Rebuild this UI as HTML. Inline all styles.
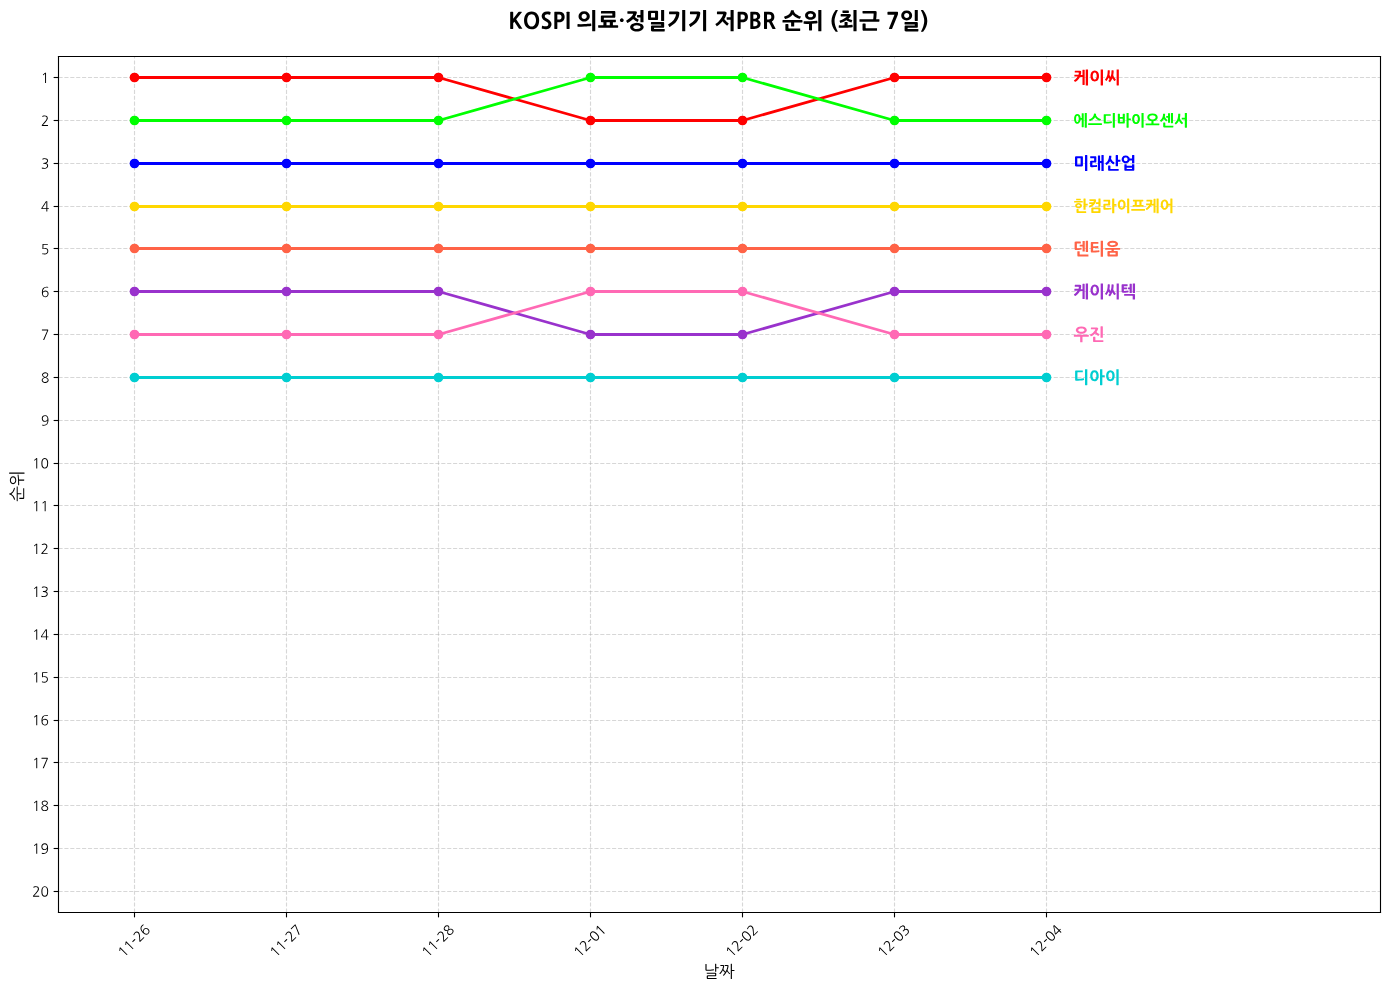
<!DOCTYPE html>
<html><head><meta charset="utf-8"><title>KOSPI chart</title>
<style>html,body{margin:0;padding:0;background:#fff;width:1389px;height:990px;overflow:hidden;font-family:"Liberation Sans",sans-serif}svg{display:block}</style>
</head><body>
<svg width="1389" height="990" viewBox="0 0 1000.08 712.8" version="1.1">
<defs>
<style type="text/css">*{stroke-linejoin: round; stroke-linecap: butt}</style>
</defs>
<g id="figure_1">
<g id="patch_1">
<path d="M 0 712.8 L 1000.08 712.8 L 1000.08 0 L 0 0 z
" style="fill: #ffffff"/>
</g>
<g id="axes_1">
<g id="patch_2">
<path d="M 41.868 656.784 L 993.6 656.784 L 993.6 40.1616 L 41.868 40.1616 z
" style="fill: #ffffff"/>
</g>
<g id="matplotlib.axis_1">
<g id="xtick_1">
<g id="line2d_1">
<path d="M 96.8400 657.0000 L 96.8400 40.6800" clip-path="url(#p527ad0eb08)" style="fill: none; stroke-dasharray: 2.96,1.28; stroke-dashoffset: 0; stroke: #b0b0b0; stroke-opacity: 0.5; stroke-width: 0.8"/>
</g>
<g id="line2d_2">
<defs>
<path id="m1504cfccaf" d="M 0 0 L 0 3.5 " style="stroke: #000000; stroke-width: 0.8"/>
</defs>
<g>
<use href="#m1504cfccaf" x="96.8400" y="657.0000" style="stroke: #000000; stroke-width: 0.8"/>
</g>
</g>
<g id="text_1">
<!-- 11-26 -->
<g style="stroke: #000000; stroke-width: 1.80" transform="translate(89.2053 689.8372) rotate(-45) scale(0.1 -0.1)">
<defs>
<path id="NanumGothic-31" d="M 2362 70 Q 2362 -19 2272 -19 L 2010 -19 Q 1920 -19 1920 70 L 1920 4230 Q 1722 4064 1549 3917 Q 1376 3770 1184 3603 Q 1114 3546 1056 3616 L 928 3770 Q 909 3802 909 3837 Q 909 3872 941 3898 L 1933 4730 Q 1958 4755 2010 4755 L 2182 4755 Q 2317 4755 2339 4732 Q 2362 4710 2362 4576 L 2362 70 z
" transform="scale(0.015625)"/>
<path id="NanumGothic-2d" d="M 1946 2701 Q 2016 2701 2025 2691 Q 2035 2682 2035 2611 L 2035 2330 Q 2035 2259 2025 2249 Q 2016 2240 1946 2240 L 448 2240 Q 378 2240 368 2249 Q 358 2259 358 2330 L 358 2611 Q 358 2682 368 2691 Q 378 2701 448 2701 L 1946 2701 z
" transform="scale(0.015625)"/>
<path id="NanumGothic-32" d="M 576 -19 Q 506 -19 470 -16 Q 435 -13 419 3 Q 403 19 400 54 Q 397 90 397 160 L 403 301 Q 403 384 454 435 L 1510 1600 Q 2688 2874 2688 3533 Q 2688 3917 2432 4173 Q 2182 4422 1811 4422 Q 1293 4422 730 4134 Q 640 4090 627 4173 L 589 4384 Q 570 4493 653 4518 Q 979 4666 1241 4736 Q 1504 4806 1779 4806 Q 2394 4806 2758 4499 Q 3168 4166 3168 3552 Q 3168 3315 3053 3033 Q 2938 2752 2733 2445 Q 2605 2266 2371 1978 Q 2138 1690 1837 1363 Q 1613 1120 1392 870 Q 1171 621 947 378 L 3187 378 Q 3277 378 3277 288 L 3277 70 Q 3277 -19 3187 -19 L 576 -19 z
" transform="scale(0.015625)"/>
<path id="NanumGothic-36" d="M 3078 1485 Q 3078 2003 2810 2304 Q 2541 2611 2042 2611 Q 1786 2611 1581 2531 Q 1376 2451 1232 2310 Q 1088 2170 1008 1971 Q 928 1773 928 1536 Q 928 1050 1197 717 Q 1491 326 1984 326 Q 2490 326 2797 666 Q 3078 986 3078 1485 z
M 3245 4294 Q 3098 4346 2909 4378 Q 2720 4410 2534 4410 Q 1664 4410 1248 3782 Q 896 3258 883 2342 Q 1024 2598 1293 2778 Q 1626 3014 2042 3014 Q 2624 3014 3021 2707 Q 3526 2317 3526 1517 Q 3526 838 3110 390 Q 2688 -64 1971 -64 Q 435 -64 435 2202 Q 435 3386 909 4051 Q 1466 4806 2586 4806 Q 2752 4806 2934 4780 Q 3117 4755 3270 4710 Q 3366 4691 3354 4595 L 3341 4358 Q 3341 4314 3309 4298 Q 3277 4282 3245 4294 z
" transform="scale(0.015625)"/>
</defs>
<use href="#NanumGothic-31"/>
<use href="#NanumGothic-31" transform="translate(60.599991 0)"/>
<use href="#NanumGothic-2d" transform="translate(121.199982 0)"/>
<use href="#NanumGothic-32" transform="translate(157.499969 0)"/>
<use href="#NanumGothic-36" transform="translate(218.09996 0)"/>
</g>
</g>
</g>
<g id="xtick_2">
<g id="line2d_3">
<path d="M 206.2800 657.0000 L 206.2800 40.6800" clip-path="url(#p527ad0eb08)" style="fill: none; stroke-dasharray: 2.96,1.28; stroke-dashoffset: 0; stroke: #b0b0b0; stroke-opacity: 0.5; stroke-width: 0.8"/>
</g>
<g id="line2d_4">
<g>
<use href="#m1504cfccaf" x="206.2800" y="657.0000" style="stroke: #000000; stroke-width: 0.8"/>
</g>
</g>
<g id="text_2">
<!-- 11-27 -->
<g style="stroke: #000000; stroke-width: 1.80" transform="translate(198.5997 689.8372) rotate(-45) scale(0.1 -0.1)">
<defs>
<path id="NanumGothic-37" d="M 1549 70 Q 1504 -19 1421 -19 L 1101 -19 Q 1062 -19 1046 6 Q 1030 32 1050 70 L 2912 4365 L 538 4365 Q 448 4365 448 4454 L 448 4666 Q 448 4755 538 4755 L 3194 4755 Q 3328 4755 3350 4732 Q 3373 4710 3373 4576 L 3373 4416 Q 3373 4365 3354 4326 L 1549 70 z
" transform="scale(0.015625)"/>
</defs>
<use href="#NanumGothic-31"/>
<use href="#NanumGothic-31" transform="translate(60.599991 0)"/>
<use href="#NanumGothic-2d" transform="translate(121.199982 0)"/>
<use href="#NanumGothic-32" transform="translate(157.499969 0)"/>
<use href="#NanumGothic-37" transform="translate(218.09996 0)"/>
</g>
</g>
</g>
<g id="xtick_3">
<g id="line2d_5">
<path d="M 315.7200 657.0000 L 315.7200 40.6800" clip-path="url(#p527ad0eb08)" style="fill: none; stroke-dasharray: 2.96,1.28; stroke-dashoffset: 0; stroke: #b0b0b0; stroke-opacity: 0.5; stroke-width: 0.8"/>
</g>
<g id="line2d_6">
<g>
<use href="#m1504cfccaf" x="315.7200" y="657.0000" style="stroke: #000000; stroke-width: 0.8"/>
</g>
</g>
<g id="text_3">
<!-- 11-28 -->
<g style="stroke: #000000; stroke-width: 1.80" transform="translate(307.9942 689.8372) rotate(-45) scale(0.1 -0.1)">
<defs>
<path id="NanumGothic-38" d="M 2944 3642 Q 2944 4006 2624 4218 Q 2342 4416 1965 4416 Q 1555 4416 1274 4211 Q 966 4006 966 3642 Q 966 3309 1286 3040 Q 1376 2957 1526 2861 Q 1677 2765 1882 2669 Q 1933 2643 1965 2646 Q 1997 2650 2061 2682 Q 2470 2906 2707 3152 Q 2944 3398 2944 3642 z
M 3104 1242 Q 3104 1594 2784 1856 Q 2682 1939 2496 2041 Q 2310 2144 2042 2266 Q 1958 2310 1856 2266 Q 1606 2170 1414 2064 Q 1222 1958 1107 1869 Q 979 1741 899 1571 Q 819 1402 819 1210 Q 819 819 1184 570 Q 1517 320 1965 320 Q 2426 320 2739 538 Q 3104 787 3104 1242 z
M 3552 1210 Q 3552 896 3421 646 Q 3290 397 3046 230 Q 2835 90 2560 13 Q 2285 -64 1965 -64 Q 1651 -64 1379 19 Q 1107 102 883 250 Q 640 422 505 668 Q 371 915 371 1210 Q 371 1709 704 2022 Q 960 2266 1491 2464 Q 518 2944 518 3693 Q 518 3962 652 4170 Q 787 4378 1030 4544 Q 1235 4672 1468 4739 Q 1702 4806 1965 4806 Q 2272 4806 2515 4739 Q 2758 4672 2957 4538 Q 3398 4230 3398 3693 Q 3398 3027 2400 2464 Q 2662 2368 2870 2253 Q 3078 2138 3206 2022 Q 3552 1715 3552 1210 z
" transform="scale(0.015625)"/>
</defs>
<use href="#NanumGothic-31"/>
<use href="#NanumGothic-31" transform="translate(60.599991 0)"/>
<use href="#NanumGothic-2d" transform="translate(121.199982 0)"/>
<use href="#NanumGothic-32" transform="translate(157.499969 0)"/>
<use href="#NanumGothic-38" transform="translate(218.09996 0)"/>
</g>
</g>
</g>
<g id="xtick_4">
<g id="line2d_7">
<path d="M 425.1600 657.0000 L 425.1600 40.6800" clip-path="url(#p527ad0eb08)" style="fill: none; stroke-dasharray: 2.96,1.28; stroke-dashoffset: 0; stroke: #b0b0b0; stroke-opacity: 0.5; stroke-width: 0.8"/>
</g>
<g id="line2d_8">
<g>
<use href="#m1504cfccaf" x="425.1600" y="657.0000" style="stroke: #000000; stroke-width: 0.8"/>
</g>
</g>
<g id="text_4">
<!-- 12-01 -->
<g style="stroke: #000000; stroke-width: 1.80" transform="translate(417.3887 689.8372) rotate(-45) scale(0.1 -0.1)">
<defs>
<path id="NanumGothic-30" d="M 3066 2374 Q 3066 4384 1965 4384 Q 864 4384 864 2374 Q 864 358 1965 358 Q 3066 358 3066 2374 z
M 3526 2374 Q 3526 -45 1965 -45 Q 390 -45 390 2374 Q 390 3379 698 4006 Q 1088 4794 1965 4794 Q 2829 4794 3226 4006 Q 3373 3693 3449 3289 Q 3526 2886 3526 2374 z
" transform="scale(0.015625)"/>
</defs>
<use href="#NanumGothic-31"/>
<use href="#NanumGothic-32" transform="translate(60.599991 0)"/>
<use href="#NanumGothic-2d" transform="translate(121.199982 0)"/>
<use href="#NanumGothic-30" transform="translate(157.499969 0)"/>
<use href="#NanumGothic-31" transform="translate(218.09996 0)"/>
</g>
</g>
</g>
<g id="xtick_5">
<g id="line2d_9">
<path d="M 534.6000 657.0000 L 534.6000 40.6800" clip-path="url(#p527ad0eb08)" style="fill: none; stroke-dasharray: 2.96,1.28; stroke-dashoffset: 0; stroke: #b0b0b0; stroke-opacity: 0.5; stroke-width: 0.8"/>
</g>
<g id="line2d_10">
<g>
<use href="#m1504cfccaf" x="534.6000" y="657.0000" style="stroke: #000000; stroke-width: 0.8"/>
</g>
</g>
<g id="text_5">
<!-- 12-02 -->
<g style="stroke: #000000; stroke-width: 1.80" transform="translate(526.7832 689.8372) rotate(-45) scale(0.1 -0.1)">
<use href="#NanumGothic-31"/>
<use href="#NanumGothic-32" transform="translate(60.599991 0)"/>
<use href="#NanumGothic-2d" transform="translate(121.199982 0)"/>
<use href="#NanumGothic-30" transform="translate(157.499969 0)"/>
<use href="#NanumGothic-32" transform="translate(218.09996 0)"/>
</g>
</g>
</g>
<g id="xtick_6">
<g id="line2d_11">
<path d="M 644.0400 657.0000 L 644.0400 40.6800" clip-path="url(#p527ad0eb08)" style="fill: none; stroke-dasharray: 2.96,1.28; stroke-dashoffset: 0; stroke: #b0b0b0; stroke-opacity: 0.5; stroke-width: 0.8"/>
</g>
<g id="line2d_12">
<g>
<use href="#m1504cfccaf" x="644.0400" y="657.0000" style="stroke: #000000; stroke-width: 0.8"/>
</g>
</g>
<g id="text_6">
<!-- 12-03 -->
<g style="stroke: #000000; stroke-width: 1.80" transform="translate(636.1777 689.8372) rotate(-45) scale(0.1 -0.1)">
<defs>
<path id="NanumGothic-33" d="M 493 90 Q 397 115 410 237 L 435 486 Q 448 563 538 525 Q 806 416 1046 371 Q 1286 326 1606 320 Q 2112 314 2458 576 Q 2861 845 2861 1363 Q 2861 2272 1498 2272 L 1165 2272 Q 1082 2272 1082 2342 L 1082 2579 Q 1082 2662 1165 2662 L 1197 2662 Q 1882 2662 2266 2810 Q 2848 3034 2848 3616 Q 2848 3802 2749 3958 Q 2650 4115 2483 4224 Q 2330 4314 2138 4365 Q 1946 4416 1734 4416 Q 1517 4416 1254 4358 Q 992 4301 749 4205 Q 666 4173 653 4256 L 627 4493 Q 608 4582 710 4621 Q 998 4717 1248 4761 Q 1498 4806 1779 4806 Q 2426 4806 2835 4531 Q 3302 4218 3302 3616 Q 3302 3187 2995 2874 Q 2739 2598 2330 2470 Q 2534 2445 2710 2361 Q 2886 2278 3014 2131 Q 3162 1971 3238 1769 Q 3315 1568 3315 1325 Q 3315 1005 3184 745 Q 3053 486 2810 301 Q 2573 128 2265 29 Q 1958 -70 1581 -64 Q 1242 -58 995 -26 Q 749 6 493 90 z
" transform="scale(0.015625)"/>
</defs>
<use href="#NanumGothic-31"/>
<use href="#NanumGothic-32" transform="translate(60.599991 0)"/>
<use href="#NanumGothic-2d" transform="translate(121.199982 0)"/>
<use href="#NanumGothic-30" transform="translate(157.499969 0)"/>
<use href="#NanumGothic-33" transform="translate(218.09996 0)"/>
</g>
</g>
</g>
<g id="xtick_7">
<g id="line2d_13">
<path d="M 753.4800 657.0000 L 753.4800 40.6800" clip-path="url(#p527ad0eb08)" style="fill: none; stroke-dasharray: 2.96,1.28; stroke-dashoffset: 0; stroke: #b0b0b0; stroke-opacity: 0.5; stroke-width: 0.8"/>
</g>
<g id="line2d_14">
<g>
<use href="#m1504cfccaf" x="753.4800" y="657.0000" style="stroke: #000000; stroke-width: 0.8"/>
</g>
</g>
<g id="text_7">
<!-- 12-04 -->
<g style="stroke: #000000; stroke-width: 1.80" transform="translate(745.5722 689.8372) rotate(-45) scale(0.1 -0.1)">
<defs>
<path id="NanumGothic-34" d="M 2509 1498 L 2509 4352 Q 2035 3635 1568 2924 Q 1101 2214 621 1498 L 2509 1498 z
M 2944 70 Q 2944 -19 2854 -19 L 2598 -19 Q 2509 -19 2509 70 L 2509 1107 L 397 1107 Q 262 1107 240 1129 Q 218 1152 218 1286 L 218 1485 Q 218 1542 224 1561 Q 230 1581 262 1632 L 2304 4678 Q 2342 4736 2358 4745 Q 2374 4755 2445 4755 L 2765 4755 Q 2899 4755 2921 4732 Q 2944 4710 2944 4576 L 2944 1498 L 3578 1498 Q 3667 1498 3667 1408 L 3667 1197 Q 3667 1107 3578 1107 L 2944 1107 L 2944 70 z
" transform="scale(0.015625)"/>
</defs>
<use href="#NanumGothic-31"/>
<use href="#NanumGothic-32" transform="translate(60.599991 0)"/>
<use href="#NanumGothic-2d" transform="translate(121.199982 0)"/>
<use href="#NanumGothic-30" transform="translate(157.499969 0)"/>
<use href="#NanumGothic-34" transform="translate(218.09996 0)"/>
</g>
</g>
</g>
<g id="text_8">
<!-- 날짜 -->
<g style="stroke: #000000; stroke-width: 1.50" transform="translate(506.454 703.743479) scale(0.12 -0.12)">
<defs>
<path id="NanumGothic-b0a0" d="M 5069 -557 Q 5069 -589 5040 -611 Q 5011 -634 4986 -634 L 1766 -634 Q 1466 -634 1373 -522 Q 1280 -410 1280 -141 L 1280 339 Q 1280 608 1392 701 Q 1504 794 1792 794 L 4352 794 Q 4442 794 4467 819 Q 4493 845 4493 941 L 4493 1306 Q 4493 1402 4470 1427 Q 4448 1453 4358 1453 L 1357 1453 Q 1325 1453 1296 1472 Q 1267 1491 1267 1523 L 1267 1754 Q 1267 1786 1296 1805 Q 1325 1824 1357 1824 L 4429 1824 Q 4582 1824 4678 1801 Q 4774 1779 4832 1728 Q 4890 1677 4912 1584 Q 4934 1491 4934 1357 L 4934 877 Q 4934 608 4822 515 Q 4710 422 4422 422 L 1856 422 Q 1766 422 1744 396 Q 1722 371 1722 275 L 1722 -115 Q 1722 -205 1747 -233 Q 1773 -262 1862 -262 L 4979 -262 Q 5011 -262 5040 -281 Q 5069 -301 5069 -333 L 5069 -557 z
M 1216 3085 Q 1216 2989 1248 2957 Q 1280 2925 1370 2918 Q 1971 2899 2633 2950 Q 3296 3002 3904 3117 Q 4006 3136 4026 3046 L 4058 2848 Q 4064 2771 3974 2746 Q 3725 2688 3382 2643 Q 3040 2598 2675 2566 Q 2310 2534 1945 2521 Q 1581 2509 1280 2522 Q 992 2534 883 2659 Q 774 2784 774 3053 L 774 5037 Q 774 5126 864 5126 L 1126 5126 Q 1216 5126 1216 5037 L 1216 3085 z
M 4928 2291 Q 4928 2202 4838 2202 L 4576 2202 Q 4486 2202 4486 2291 L 4486 5197 Q 4486 5286 4576 5286 L 4838 5286 Q 4928 5286 4928 5197 L 4928 3923 L 5811 3923 Q 5850 3923 5878 3900 Q 5907 3878 5907 3840 L 5907 3622 Q 5907 3590 5878 3564 Q 5850 3539 5811 3539 L 4928 3539 L 4928 2291 z
" transform="scale(0.015625)"/>
<path id="NanumGothic-c9dc" d="M 4083 1274 Q 4051 1229 4025 1232 Q 4000 1235 3949 1267 Q 3699 1459 3456 1766 Q 3213 2074 3034 2374 Q 2790 1888 2483 1453 Q 2176 1018 1824 659 Q 1754 589 1709 621 L 1517 787 Q 1446 845 1510 909 Q 1715 1114 1894 1338 Q 2074 1562 2240 1805 Q 2029 1990 1830 2236 Q 1632 2483 1478 2739 Q 1280 2336 1027 1974 Q 774 1613 467 1318 Q 390 1242 346 1280 L 166 1446 Q 90 1510 160 1574 Q 429 1824 659 2147 Q 890 2470 1066 2825 Q 1242 3181 1360 3545 Q 1478 3910 1523 4243 Q 1536 4333 1517 4371 Q 1498 4410 1402 4410 L 563 4410 Q 486 4410 486 4493 L 486 4698 Q 486 4774 576 4774 L 1523 4774 Q 1824 4774 1901 4656 Q 1978 4538 1946 4256 Q 1875 3718 1664 3168 Q 1728 3040 1814 2902 Q 1901 2765 2003 2627 Q 2106 2490 2221 2362 Q 2336 2234 2451 2131 Q 2739 2624 2934 3155 Q 3130 3686 3200 4243 Q 3213 4333 3193 4371 Q 3174 4410 3078 4410 L 2240 4410 Q 2163 4410 2163 4493 L 2163 4698 Q 2163 4774 2253 4774 L 3200 4774 Q 3501 4774 3577 4656 Q 3654 4538 3622 4256 Q 3578 3891 3478 3529 Q 3379 3168 3232 2803 Q 3302 2650 3411 2474 Q 3520 2298 3651 2125 Q 3782 1952 3926 1805 Q 4070 1658 4205 1568 Q 4237 1536 4237 1513 Q 4237 1491 4218 1459 L 4083 1274 z
M 4928 -525 Q 4928 -614 4838 -614 L 4576 -614 Q 4486 -614 4486 -525 L 4486 5197 Q 4486 5286 4576 5286 L 4838 5286 Q 4928 5286 4928 5197 L 4928 2867 L 5811 2867 Q 5850 2867 5878 2844 Q 5907 2822 5907 2784 L 5907 2566 Q 5914 2528 5878 2505 Q 5843 2483 5811 2483 L 4928 2483 L 4928 -525 z
" transform="scale(0.015625)"/>
</defs>
<use href="#NanumGothic-b0a0"/>
<use href="#NanumGothic-c9dc" transform="translate(93.999985 0)"/>
</g>
</g>
</g>
<g id="matplotlib.axis_2">
<g id="ytick_1">
<g id="line2d_15">
<path d="M 42.1200 55.8000 L 993.9600 55.8000" clip-path="url(#p527ad0eb08)" style="fill: none; stroke-dasharray: 2.96,1.28; stroke-dashoffset: 0; stroke: #b0b0b0; stroke-opacity: 0.5; stroke-width: 0.8"/>
</g>
<g id="line2d_16">
<defs>
<path id="m5d545ce8f8" d="M 0 0 L -3.5 0 " style="stroke: #000000; stroke-width: 0.8"/>
</defs>
<g>
<use href="#m5d545ce8f8" x="42.1200" y="55.8000" style="stroke: #000000; stroke-width: 0.8"/>
</g>
</g>
<g id="text_9">
<!-- 1 -->
<g style="stroke: #000000; stroke-width: 1.80" transform="translate(29.4566 59.7728) scale(0.1 -0.1)">
<use href="#NanumGothic-31"/>
</g>
</g>
</g>
<g id="ytick_2">
<g id="line2d_17">
<path d="M 42.1200 86.7600 L 993.9600 86.7600" clip-path="url(#p527ad0eb08)" style="fill: none; stroke-dasharray: 2.96,1.28; stroke-dashoffset: 0; stroke: #b0b0b0; stroke-opacity: 0.5; stroke-width: 0.8"/>
</g>
<g id="line2d_18">
<g>
<use href="#m5d545ce8f8" x="42.1200" y="86.7600" style="stroke: #000000; stroke-width: 0.8"/>
</g>
</g>
<g id="text_10">
<!-- 2 -->
<g style="stroke: #000000; stroke-width: 1.80" transform="translate(29.4566 90.6040) scale(0.1 -0.1)">
<use href="#NanumGothic-32"/>
</g>
</g>
</g>
<g id="ytick_3">
<g id="line2d_19">
<path d="M 42.1200 117.7200 L 993.9600 117.7200" clip-path="url(#p527ad0eb08)" style="fill: none; stroke-dasharray: 2.96,1.28; stroke-dashoffset: 0; stroke: #b0b0b0; stroke-opacity: 0.5; stroke-width: 0.8"/>
</g>
<g id="line2d_20">
<g>
<use href="#m5d545ce8f8" x="42.1200" y="117.7200" style="stroke: #000000; stroke-width: 0.8"/>
</g>
</g>
<g id="text_11">
<!-- 3 -->
<g style="stroke: #000000; stroke-width: 1.80" transform="translate(29.4566 121.4351) scale(0.1 -0.1)">
<use href="#NanumGothic-33"/>
</g>
</g>
</g>
<g id="ytick_4">
<g id="line2d_21">
<path d="M 42.1200 148.6800 L 993.9600 148.6800" clip-path="url(#p527ad0eb08)" style="fill: none; stroke-dasharray: 2.96,1.28; stroke-dashoffset: 0; stroke: #b0b0b0; stroke-opacity: 0.5; stroke-width: 0.8"/>
</g>
<g id="line2d_22">
<g>
<use href="#m5d545ce8f8" x="42.1200" y="148.6800" style="stroke: #000000; stroke-width: 0.8"/>
</g>
</g>
<g id="text_12">
<!-- 4 -->
<g style="stroke: #000000; stroke-width: 1.80" transform="translate(29.4566 152.2662) scale(0.1 -0.1)">
<use href="#NanumGothic-34"/>
</g>
</g>
</g>
<g id="ytick_5">
<g id="line2d_23">
<path d="M 42.1200 178.9200 L 993.9600 178.9200" clip-path="url(#p527ad0eb08)" style="fill: none; stroke-dasharray: 2.96,1.28; stroke-dashoffset: 0; stroke: #b0b0b0; stroke-opacity: 0.5; stroke-width: 0.8"/>
</g>
<g id="line2d_24">
<g>
<use href="#m5d545ce8f8" x="42.1200" y="178.9200" style="stroke: #000000; stroke-width: 0.8"/>
</g>
</g>
<g id="text_13">
<!-- 5 -->
<g style="stroke: #000000; stroke-width: 1.80" transform="translate(29.4566 183.0973) scale(0.1 -0.1)">
<defs>
<path id="NanumGothic-35" d="M 736 77 Q 646 109 646 192 L 646 461 Q 646 570 736 525 Q 966 416 1187 371 Q 1408 326 1670 326 Q 2234 326 2586 602 Q 2970 896 2970 1446 Q 2970 2528 1734 2528 Q 1491 2528 1296 2502 Q 1101 2477 864 2413 Q 794 2394 749 2429 Q 704 2464 704 2534 L 742 4576 Q 742 4710 764 4732 Q 787 4755 922 4755 L 3110 4755 Q 3200 4755 3200 4666 L 3200 4454 Q 3200 4365 3110 4365 L 1178 4365 Q 1171 3962 1161 3578 Q 1152 3194 1146 2790 Q 1459 2912 1907 2912 Q 2579 2912 2995 2547 Q 3411 2170 3411 1536 Q 3411 762 2931 339 Q 2470 -64 1670 -64 Q 1382 -64 1171 -32 Q 960 0 736 77 z
" transform="scale(0.015625)"/>
</defs>
<use href="#NanumGothic-35"/>
</g>
</g>
</g>
<g id="ytick_6">
<g id="line2d_25">
<path d="M 42.1200 209.8800 L 993.9600 209.8800" clip-path="url(#p527ad0eb08)" style="fill: none; stroke-dasharray: 2.96,1.28; stroke-dashoffset: 0; stroke: #b0b0b0; stroke-opacity: 0.5; stroke-width: 0.8"/>
</g>
<g id="line2d_26">
<g>
<use href="#m5d545ce8f8" x="42.1200" y="209.8800" style="stroke: #000000; stroke-width: 0.8"/>
</g>
</g>
<g id="text_14">
<!-- 6 -->
<g style="stroke: #000000; stroke-width: 1.80" transform="translate(29.4566 213.9284) scale(0.1 -0.1)">
<use href="#NanumGothic-36"/>
</g>
</g>
</g>
<g id="ytick_7">
<g id="line2d_27">
<path d="M 42.1200 240.8400 L 993.9600 240.8400" clip-path="url(#p527ad0eb08)" style="fill: none; stroke-dasharray: 2.96,1.28; stroke-dashoffset: 0; stroke: #b0b0b0; stroke-opacity: 0.5; stroke-width: 0.8"/>
</g>
<g id="line2d_28">
<g>
<use href="#m5d545ce8f8" x="42.1200" y="240.8400" style="stroke: #000000; stroke-width: 0.8"/>
</g>
</g>
<g id="text_15">
<!-- 7 -->
<g style="stroke: #000000; stroke-width: 1.80" transform="translate(29.4566 244.7596) scale(0.1 -0.1)">
<use href="#NanumGothic-37"/>
</g>
</g>
</g>
<g id="ytick_8">
<g id="line2d_29">
<path d="M 42.1200 271.8000 L 993.9600 271.8000" clip-path="url(#p527ad0eb08)" style="fill: none; stroke-dasharray: 2.96,1.28; stroke-dashoffset: 0; stroke: #b0b0b0; stroke-opacity: 0.5; stroke-width: 0.8"/>
</g>
<g id="line2d_30">
<g>
<use href="#m5d545ce8f8" x="42.1200" y="271.8000" style="stroke: #000000; stroke-width: 0.8"/>
</g>
</g>
<g id="text_16">
<!-- 8 -->
<g style="stroke: #000000; stroke-width: 1.80" transform="translate(29.4566 275.5907) scale(0.1 -0.1)">
<use href="#NanumGothic-38"/>
</g>
</g>
</g>
<g id="ytick_9">
<g id="line2d_31">
<path d="M 42.1200 302.7600 L 993.9600 302.7600" clip-path="url(#p527ad0eb08)" style="fill: none; stroke-dasharray: 2.96,1.28; stroke-dashoffset: 0; stroke: #b0b0b0; stroke-opacity: 0.5; stroke-width: 0.8"/>
</g>
<g id="line2d_32">
<g>
<use href="#m5d545ce8f8" x="42.1200" y="302.7600" style="stroke: #000000; stroke-width: 0.8"/>
</g>
</g>
<g id="text_17">
<!-- 9 -->
<g style="stroke: #000000; stroke-width: 1.80" transform="translate(29.4566 306.4218) scale(0.1 -0.1)">
<defs>
<path id="NanumGothic-39" d="M 2995 3206 Q 2995 3706 2726 4045 Q 2432 4410 1946 4410 Q 1427 4410 1133 4083 Q 845 3776 845 3264 Q 845 2720 1107 2419 L 1101 2419 Q 1376 2125 1882 2125 Q 2406 2125 2701 2419 Q 2995 2726 2995 3206 z
M 653 26 Q 557 45 570 173 L 589 397 Q 602 474 691 435 Q 851 371 1014 345 Q 1178 320 1382 320 Q 1830 320 2163 496 Q 2496 672 2707 998 Q 3027 1536 3040 2362 Q 2650 1734 1882 1734 Q 1293 1734 896 2035 Q 390 2426 390 3232 Q 390 3942 806 4365 Q 1229 4806 1958 4806 Q 3494 4806 3494 2541 Q 3494 -64 1338 -64 Q 1043 -64 653 26 z
" transform="scale(0.015625)"/>
</defs>
<use href="#NanumGothic-39"/>
</g>
</g>
</g>
<g id="ytick_10">
<g id="line2d_33">
<path d="M 42.1200 333.7200 L 993.9600 333.7200" clip-path="url(#p527ad0eb08)" style="fill: none; stroke-dasharray: 2.96,1.28; stroke-dashoffset: 0; stroke: #b0b0b0; stroke-opacity: 0.5; stroke-width: 0.8"/>
</g>
<g id="line2d_34">
<g>
<use href="#m5d545ce8f8" x="42.1200" y="333.7200" style="stroke: #000000; stroke-width: 0.8"/>
</g>
</g>
<g id="text_18">
<!-- 10 -->
<g style="stroke: #000000; stroke-width: 1.80" transform="translate(23.1092 337.2529) scale(0.1 -0.1)">
<use href="#NanumGothic-31"/>
<use href="#NanumGothic-30" transform="translate(60.599991 0)"/>
</g>
</g>
</g>
<g id="ytick_11">
<g id="line2d_35">
<path d="M 42.1200 363.9600 L 993.9600 363.9600" clip-path="url(#p527ad0eb08)" style="fill: none; stroke-dasharray: 2.96,1.28; stroke-dashoffset: 0; stroke: #b0b0b0; stroke-opacity: 0.5; stroke-width: 0.8"/>
</g>
<g id="line2d_36">
<g>
<use href="#m5d545ce8f8" x="42.1200" y="363.9600" style="stroke: #000000; stroke-width: 0.8"/>
</g>
</g>
<g id="text_19">
<!-- 11 -->
<g style="stroke: #000000; stroke-width: 1.80" transform="translate(23.1092 368.0840) scale(0.1 -0.1)">
<use href="#NanumGothic-31"/>
<use href="#NanumGothic-31" transform="translate(60.599991 0)"/>
</g>
</g>
</g>
<g id="ytick_12">
<g id="line2d_37">
<path d="M 42.1200 394.9200 L 993.9600 394.9200" clip-path="url(#p527ad0eb08)" style="fill: none; stroke-dasharray: 2.96,1.28; stroke-dashoffset: 0; stroke: #b0b0b0; stroke-opacity: 0.5; stroke-width: 0.8"/>
</g>
<g id="line2d_38">
<g>
<use href="#m5d545ce8f8" x="42.1200" y="394.9200" style="stroke: #000000; stroke-width: 0.8"/>
</g>
</g>
<g id="text_20">
<!-- 12 -->
<g style="stroke: #000000; stroke-width: 1.80" transform="translate(23.1092 398.9152) scale(0.1 -0.1)">
<use href="#NanumGothic-31"/>
<use href="#NanumGothic-32" transform="translate(60.599991 0)"/>
</g>
</g>
</g>
<g id="ytick_13">
<g id="line2d_39">
<path d="M 42.1200 425.8800 L 993.9600 425.8800" clip-path="url(#p527ad0eb08)" style="fill: none; stroke-dasharray: 2.96,1.28; stroke-dashoffset: 0; stroke: #b0b0b0; stroke-opacity: 0.5; stroke-width: 0.8"/>
</g>
<g id="line2d_40">
<g>
<use href="#m5d545ce8f8" x="42.1200" y="425.8800" style="stroke: #000000; stroke-width: 0.8"/>
</g>
</g>
<g id="text_21">
<!-- 13 -->
<g style="stroke: #000000; stroke-width: 1.80" transform="translate(23.1092 429.7463) scale(0.1 -0.1)">
<use href="#NanumGothic-31"/>
<use href="#NanumGothic-33" transform="translate(60.599991 0)"/>
</g>
</g>
</g>
<g id="ytick_14">
<g id="line2d_41">
<path d="M 42.1200 456.8400 L 993.9600 456.8400" clip-path="url(#p527ad0eb08)" style="fill: none; stroke-dasharray: 2.96,1.28; stroke-dashoffset: 0; stroke: #b0b0b0; stroke-opacity: 0.5; stroke-width: 0.8"/>
</g>
<g id="line2d_42">
<g>
<use href="#m5d545ce8f8" x="42.1200" y="456.8400" style="stroke: #000000; stroke-width: 0.8"/>
</g>
</g>
<g id="text_22">
<!-- 14 -->
<g style="stroke: #000000; stroke-width: 1.80" transform="translate(23.1092 460.5774) scale(0.1 -0.1)">
<use href="#NanumGothic-31"/>
<use href="#NanumGothic-34" transform="translate(60.599991 0)"/>
</g>
</g>
</g>
<g id="ytick_15">
<g id="line2d_43">
<path d="M 42.1200 487.8000 L 993.9600 487.8000" clip-path="url(#p527ad0eb08)" style="fill: none; stroke-dasharray: 2.96,1.28; stroke-dashoffset: 0; stroke: #b0b0b0; stroke-opacity: 0.5; stroke-width: 0.8"/>
</g>
<g id="line2d_44">
<g>
<use href="#m5d545ce8f8" x="42.1200" y="487.8000" style="stroke: #000000; stroke-width: 0.8"/>
</g>
</g>
<g id="text_23">
<!-- 15 -->
<g style="stroke: #000000; stroke-width: 1.80" transform="translate(23.1092 491.4085) scale(0.1 -0.1)">
<use href="#NanumGothic-31"/>
<use href="#NanumGothic-35" transform="translate(60.599991 0)"/>
</g>
</g>
</g>
<g id="ytick_16">
<g id="line2d_45">
<path d="M 42.1200 518.7600 L 993.9600 518.7600" clip-path="url(#p527ad0eb08)" style="fill: none; stroke-dasharray: 2.96,1.28; stroke-dashoffset: 0; stroke: #b0b0b0; stroke-opacity: 0.5; stroke-width: 0.8"/>
</g>
<g id="line2d_46">
<g>
<use href="#m5d545ce8f8" x="42.1200" y="518.7600" style="stroke: #000000; stroke-width: 0.8"/>
</g>
</g>
<g id="text_24">
<!-- 16 -->
<g style="stroke: #000000; stroke-width: 1.80" transform="translate(23.1092 522.2396) scale(0.1 -0.1)">
<use href="#NanumGothic-31"/>
<use href="#NanumGothic-36" transform="translate(60.599991 0)"/>
</g>
</g>
</g>
<g id="ytick_17">
<g id="line2d_47">
<path d="M 42.1200 549.0000 L 993.9600 549.0000" clip-path="url(#p527ad0eb08)" style="fill: none; stroke-dasharray: 2.96,1.28; stroke-dashoffset: 0; stroke: #b0b0b0; stroke-opacity: 0.5; stroke-width: 0.8"/>
</g>
<g id="line2d_48">
<g>
<use href="#m5d545ce8f8" x="42.1200" y="549.0000" style="stroke: #000000; stroke-width: 0.8"/>
</g>
</g>
<g id="text_25">
<!-- 17 -->
<g style="stroke: #000000; stroke-width: 1.80" transform="translate(23.1092 553.0708) scale(0.1 -0.1)">
<use href="#NanumGothic-31"/>
<use href="#NanumGothic-37" transform="translate(60.599991 0)"/>
</g>
</g>
</g>
<g id="ytick_18">
<g id="line2d_49">
<path d="M 42.1200 579.9600 L 993.9600 579.9600" clip-path="url(#p527ad0eb08)" style="fill: none; stroke-dasharray: 2.96,1.28; stroke-dashoffset: 0; stroke: #b0b0b0; stroke-opacity: 0.5; stroke-width: 0.8"/>
</g>
<g id="line2d_50">
<g>
<use href="#m5d545ce8f8" x="42.1200" y="579.9600" style="stroke: #000000; stroke-width: 0.8"/>
</g>
</g>
<g id="text_26">
<!-- 18 -->
<g style="stroke: #000000; stroke-width: 1.80" transform="translate(23.1092 583.9019) scale(0.1 -0.1)">
<use href="#NanumGothic-31"/>
<use href="#NanumGothic-38" transform="translate(60.599991 0)"/>
</g>
</g>
</g>
<g id="ytick_19">
<g id="line2d_51">
<path d="M 42.1200 610.9200 L 993.9600 610.9200" clip-path="url(#p527ad0eb08)" style="fill: none; stroke-dasharray: 2.96,1.28; stroke-dashoffset: 0; stroke: #b0b0b0; stroke-opacity: 0.5; stroke-width: 0.8"/>
</g>
<g id="line2d_52">
<g>
<use href="#m5d545ce8f8" x="42.1200" y="610.9200" style="stroke: #000000; stroke-width: 0.8"/>
</g>
</g>
<g id="text_27">
<!-- 19 -->
<g style="stroke: #000000; stroke-width: 1.80" transform="translate(23.1092 614.7330) scale(0.1 -0.1)">
<use href="#NanumGothic-31"/>
<use href="#NanumGothic-39" transform="translate(60.599991 0)"/>
</g>
</g>
</g>
<g id="ytick_20">
<g id="line2d_53">
<path d="M 42.1200 641.8800 L 993.9600 641.8800" clip-path="url(#p527ad0eb08)" style="fill: none; stroke-dasharray: 2.96,1.28; stroke-dashoffset: 0; stroke: #b0b0b0; stroke-opacity: 0.5; stroke-width: 0.8"/>
</g>
<g id="line2d_54">
<g>
<use href="#m5d545ce8f8" x="42.1200" y="641.8800" style="stroke: #000000; stroke-width: 0.8"/>
</g>
</g>
<g id="text_28">
<!-- 20 -->
<g style="stroke: #000000; stroke-width: 1.80" transform="translate(23.1092 645.5641) scale(0.1 -0.1)">
<use href="#NanumGothic-32"/>
<use href="#NanumGothic-30" transform="translate(60.599991 0)"/>
</g>
</g>
</g>
<g id="text_29">
<!-- 순위 -->
<g style="stroke: #000000; stroke-width: 1.50" transform="translate(16.4929 361.1928) rotate(-90) scale(0.12 -0.12)">
<defs>
<path id="NanumGothic-c21c" d="M 2912 595 Q 2880 595 2854 624 Q 2829 653 2829 691 L 2829 1997 L 288 1997 Q 250 1997 221 2022 Q 192 2048 192 2080 L 192 2298 Q 192 2336 221 2358 Q 250 2381 288 2381 L 5728 2381 Q 5760 2381 5792 2358 Q 5824 2336 5824 2298 L 5824 2080 Q 5824 2048 5792 2022 Q 5760 1997 5728 1997 L 3270 1997 L 3270 691 Q 3270 653 3248 624 Q 3226 595 3187 595 L 2912 595 z
M 3232 5088 Q 3219 5037 3209 4982 Q 3200 4928 3187 4877 Q 3219 4781 3264 4710 Q 3379 4506 3577 4307 Q 3776 4109 4035 3939 Q 4294 3770 4604 3638 Q 4915 3507 5254 3430 Q 5293 3418 5299 3386 Q 5306 3354 5293 3322 L 5184 3104 Q 5171 3072 5148 3056 Q 5126 3040 5062 3053 Q 4723 3136 4409 3277 Q 4096 3418 3827 3597 Q 3558 3776 3337 3987 Q 3117 4198 2976 4422 Q 2694 3962 2166 3584 Q 1638 3206 934 3002 Q 832 2976 806 3034 L 710 3264 Q 698 3296 707 3334 Q 717 3373 762 3386 Q 1190 3501 1548 3689 Q 1907 3878 2172 4112 Q 2438 4346 2598 4608 Q 2758 4870 2790 5133 Q 2803 5222 2874 5210 L 3162 5178 Q 3238 5165 3232 5088 z
M 5133 -422 Q 5133 -461 5101 -480 Q 5069 -499 5037 -499 L 1510 -499 Q 1210 -499 1117 -374 Q 1024 -250 1024 13 L 1024 1286 Q 1024 1376 1114 1376 L 1376 1376 Q 1466 1376 1466 1286 L 1466 19 Q 1466 -70 1494 -92 Q 1523 -115 1613 -115 L 5037 -115 Q 5069 -115 5101 -137 Q 5133 -160 5133 -192 L 5133 -422 z
" transform="scale(0.015625)"/>
<path id="NanumGothic-c704" d="M 3750 3776 Q 3750 3526 3635 3305 Q 3520 3085 3315 2918 Q 3110 2752 2828 2653 Q 2547 2554 2214 2554 Q 1888 2554 1613 2650 Q 1338 2746 1136 2915 Q 934 3085 819 3305 Q 704 3526 704 3776 Q 704 4051 819 4278 Q 934 4506 1136 4669 Q 1338 4832 1613 4918 Q 1888 5005 2214 5005 Q 2522 5005 2800 4915 Q 3078 4826 3289 4666 Q 3501 4506 3625 4278 Q 3750 4051 3750 3776 z
M 3302 3782 Q 3302 3981 3216 4134 Q 3130 4288 2979 4393 Q 2829 4499 2630 4553 Q 2432 4608 2214 4608 Q 1984 4608 1792 4550 Q 1600 4493 1456 4387 Q 1312 4282 1232 4128 Q 1152 3974 1152 3782 Q 1152 3597 1229 3443 Q 1306 3290 1446 3178 Q 1587 3066 1782 3005 Q 1978 2944 2214 2944 Q 2432 2944 2630 3008 Q 2829 3072 2979 3184 Q 3130 3296 3216 3449 Q 3302 3603 3302 3782 z
M 5152 -525 Q 5152 -614 5062 -614 L 4800 -614 Q 4710 -614 4710 -525 L 4710 5197 Q 4710 5286 4800 5286 L 5062 5286 Q 5152 5286 5152 5197 L 5152 -525 z
M 4237 2054 Q 4269 2061 4297 2045 Q 4326 2029 4333 2003 L 4365 1786 Q 4371 1696 4288 1690 Q 3872 1626 3411 1578 Q 2950 1530 2490 1498 L 2490 -410 Q 2490 -448 2467 -477 Q 2445 -506 2406 -506 L 2131 -506 Q 2099 -506 2073 -477 Q 2048 -448 2048 -410 L 2048 1478 Q 1843 1466 1606 1459 Q 1370 1453 1142 1446 Q 915 1440 710 1437 Q 506 1434 371 1440 Q 333 1440 304 1465 Q 275 1491 275 1523 L 275 1741 Q 275 1779 304 1801 Q 333 1824 371 1824 Q 557 1824 816 1827 Q 1075 1830 1347 1836 Q 1619 1843 1872 1852 Q 2125 1862 2298 1869 Q 2483 1875 2729 1894 Q 2976 1914 3241 1939 Q 3507 1965 3766 1993 Q 4026 2022 4237 2054 z
" transform="scale(0.015625)"/>
</defs>
<use href="#NanumGothic-c21c"/>
<use href="#NanumGothic-c704" transform="translate(93.999985 0)"/>
</g>
</g>
</g>
<g id="line2d_55">
<path d="M 96.8400 55.8000 L 206.2800 55.8000 L 315.7200 55.8000 L 425.1600 86.7600 L 534.6000 86.7600 L 644.0400 55.8000 L 753.4800 55.8000" clip-path="url(#p527ad0eb08)" style="fill: none; stroke: #ff0000; stroke-width: 2; stroke-linecap: square"/>
<defs>
<path id="m084c841ee3" d="M 0 3 C 0.795609 3 1.55874 2.683901 2.12132 2.12132 C 2.683901 1.55874 3 0.795609 3 0 C 3 -0.795609 2.683901 -1.55874 2.12132 -2.12132 C 1.55874 -2.683901 0.795609 -3 0 -3 C -0.795609 -3 -1.55874 -2.683901 -2.12132 -2.12132 C -2.683901 -1.55874 -3 -0.795609 -3 0 C -3 0.795609 -2.683901 1.55874 -2.12132 2.12132 C -1.55874 2.683901 -0.795609 3 0 3 z
" style="stroke: #ff0000"/>
</defs>
<g clip-path="url(#p527ad0eb08)">
<use href="#m084c841ee3" x="96.8400" y="55.8000" style="fill: #ff0000; stroke: #ff0000"/>
<use href="#m084c841ee3" x="206.2800" y="55.8000" style="fill: #ff0000; stroke: #ff0000"/>
<use href="#m084c841ee3" x="315.7200" y="55.8000" style="fill: #ff0000; stroke: #ff0000"/>
<use href="#m084c841ee3" x="425.1600" y="86.7600" style="fill: #ff0000; stroke: #ff0000"/>
<use href="#m084c841ee3" x="534.6000" y="86.7600" style="fill: #ff0000; stroke: #ff0000"/>
<use href="#m084c841ee3" x="644.0400" y="55.8000" style="fill: #ff0000; stroke: #ff0000"/>
<use href="#m084c841ee3" x="753.4800" y="55.8000" style="fill: #ff0000; stroke: #ff0000"/>
</g>
</g>
<g id="line2d_56">
<path d="M 96.8400 86.7600 L 206.2800 86.7600 L 315.7200 86.7600 L 425.1600 55.8000 L 534.6000 55.8000 L 644.0400 86.7600 L 753.4800 86.7600" clip-path="url(#p527ad0eb08)" style="fill: none; stroke: #00ff00; stroke-width: 2; stroke-linecap: square"/>
<defs>
<path id="maa00d0a9f4" d="M 0 3 C 0.795609 3 1.55874 2.683901 2.12132 2.12132 C 2.683901 1.55874 3 0.795609 3 0 C 3 -0.795609 2.683901 -1.55874 2.12132 -2.12132 C 1.55874 -2.683901 0.795609 -3 0 -3 C -0.795609 -3 -1.55874 -2.683901 -2.12132 -2.12132 C -2.683901 -1.55874 -3 -0.795609 -3 0 C -3 0.795609 -2.683901 1.55874 -2.12132 2.12132 C -1.55874 2.683901 -0.795609 3 0 3 z
" style="stroke: #00ff00"/>
</defs>
<g clip-path="url(#p527ad0eb08)">
<use href="#maa00d0a9f4" x="96.8400" y="86.7600" style="fill: #00ff00; stroke: #00ff00"/>
<use href="#maa00d0a9f4" x="206.2800" y="86.7600" style="fill: #00ff00; stroke: #00ff00"/>
<use href="#maa00d0a9f4" x="315.7200" y="86.7600" style="fill: #00ff00; stroke: #00ff00"/>
<use href="#maa00d0a9f4" x="425.1600" y="55.8000" style="fill: #00ff00; stroke: #00ff00"/>
<use href="#maa00d0a9f4" x="534.6000" y="55.8000" style="fill: #00ff00; stroke: #00ff00"/>
<use href="#maa00d0a9f4" x="644.0400" y="86.7600" style="fill: #00ff00; stroke: #00ff00"/>
<use href="#maa00d0a9f4" x="753.4800" y="86.7600" style="fill: #00ff00; stroke: #00ff00"/>
</g>
</g>
<g id="line2d_57">
<path d="M 96.8400 117.7200 L 206.2800 117.7200 L 315.7200 117.7200 L 425.1600 117.7200 L 534.6000 117.7200 L 644.0400 117.7200 L 753.4800 117.7200" clip-path="url(#p527ad0eb08)" style="fill: none; stroke: #0000ff; stroke-width: 2; stroke-linecap: square"/>
<defs>
<path id="m07ba7ed919" d="M 0 3 C 0.795609 3 1.55874 2.683901 2.12132 2.12132 C 2.683901 1.55874 3 0.795609 3 0 C 3 -0.795609 2.683901 -1.55874 2.12132 -2.12132 C 1.55874 -2.683901 0.795609 -3 0 -3 C -0.795609 -3 -1.55874 -2.683901 -2.12132 -2.12132 C -2.683901 -1.55874 -3 -0.795609 -3 0 C -3 0.795609 -2.683901 1.55874 -2.12132 2.12132 C -1.55874 2.683901 -0.795609 3 0 3 z
" style="stroke: #0000ff"/>
</defs>
<g clip-path="url(#p527ad0eb08)">
<use href="#m07ba7ed919" x="96.8400" y="117.7200" style="fill: #0000ff; stroke: #0000ff"/>
<use href="#m07ba7ed919" x="206.2800" y="117.7200" style="fill: #0000ff; stroke: #0000ff"/>
<use href="#m07ba7ed919" x="315.7200" y="117.7200" style="fill: #0000ff; stroke: #0000ff"/>
<use href="#m07ba7ed919" x="425.1600" y="117.7200" style="fill: #0000ff; stroke: #0000ff"/>
<use href="#m07ba7ed919" x="534.6000" y="117.7200" style="fill: #0000ff; stroke: #0000ff"/>
<use href="#m07ba7ed919" x="644.0400" y="117.7200" style="fill: #0000ff; stroke: #0000ff"/>
<use href="#m07ba7ed919" x="753.4800" y="117.7200" style="fill: #0000ff; stroke: #0000ff"/>
</g>
</g>
<g id="line2d_58">
<path d="M 96.8400 148.6800 L 206.2800 148.6800 L 315.7200 148.6800 L 425.1600 148.6800 L 534.6000 148.6800 L 644.0400 148.6800 L 753.4800 148.6800" clip-path="url(#p527ad0eb08)" style="fill: none; stroke: #ffd700; stroke-width: 2; stroke-linecap: square"/>
<defs>
<path id="m8daab9923a" d="M 0 3 C 0.795609 3 1.55874 2.683901 2.12132 2.12132 C 2.683901 1.55874 3 0.795609 3 0 C 3 -0.795609 2.683901 -1.55874 2.12132 -2.12132 C 1.55874 -2.683901 0.795609 -3 0 -3 C -0.795609 -3 -1.55874 -2.683901 -2.12132 -2.12132 C -2.683901 -1.55874 -3 -0.795609 -3 0 C -3 0.795609 -2.683901 1.55874 -2.12132 2.12132 C -1.55874 2.683901 -0.795609 3 0 3 z
" style="stroke: #ffd700"/>
</defs>
<g clip-path="url(#p527ad0eb08)">
<use href="#m8daab9923a" x="96.8400" y="148.6800" style="fill: #ffd700; stroke: #ffd700"/>
<use href="#m8daab9923a" x="206.2800" y="148.6800" style="fill: #ffd700; stroke: #ffd700"/>
<use href="#m8daab9923a" x="315.7200" y="148.6800" style="fill: #ffd700; stroke: #ffd700"/>
<use href="#m8daab9923a" x="425.1600" y="148.6800" style="fill: #ffd700; stroke: #ffd700"/>
<use href="#m8daab9923a" x="534.6000" y="148.6800" style="fill: #ffd700; stroke: #ffd700"/>
<use href="#m8daab9923a" x="644.0400" y="148.6800" style="fill: #ffd700; stroke: #ffd700"/>
<use href="#m8daab9923a" x="753.4800" y="148.6800" style="fill: #ffd700; stroke: #ffd700"/>
</g>
</g>
<g id="line2d_59">
<path d="M 96.8400 178.9200 L 206.2800 178.9200 L 315.7200 178.9200 L 425.1600 178.9200 L 534.6000 178.9200 L 644.0400 178.9200 L 753.4800 178.9200" clip-path="url(#p527ad0eb08)" style="fill: none; stroke: #ff6347; stroke-width: 2; stroke-linecap: square"/>
<defs>
<path id="m3a4583e886" d="M 0 3 C 0.795609 3 1.55874 2.683901 2.12132 2.12132 C 2.683901 1.55874 3 0.795609 3 0 C 3 -0.795609 2.683901 -1.55874 2.12132 -2.12132 C 1.55874 -2.683901 0.795609 -3 0 -3 C -0.795609 -3 -1.55874 -2.683901 -2.12132 -2.12132 C -2.683901 -1.55874 -3 -0.795609 -3 0 C -3 0.795609 -2.683901 1.55874 -2.12132 2.12132 C -1.55874 2.683901 -0.795609 3 0 3 z
" style="stroke: #ff6347"/>
</defs>
<g clip-path="url(#p527ad0eb08)">
<use href="#m3a4583e886" x="96.8400" y="178.9200" style="fill: #ff6347; stroke: #ff6347"/>
<use href="#m3a4583e886" x="206.2800" y="178.9200" style="fill: #ff6347; stroke: #ff6347"/>
<use href="#m3a4583e886" x="315.7200" y="178.9200" style="fill: #ff6347; stroke: #ff6347"/>
<use href="#m3a4583e886" x="425.1600" y="178.9200" style="fill: #ff6347; stroke: #ff6347"/>
<use href="#m3a4583e886" x="534.6000" y="178.9200" style="fill: #ff6347; stroke: #ff6347"/>
<use href="#m3a4583e886" x="644.0400" y="178.9200" style="fill: #ff6347; stroke: #ff6347"/>
<use href="#m3a4583e886" x="753.4800" y="178.9200" style="fill: #ff6347; stroke: #ff6347"/>
</g>
</g>
<g id="line2d_60">
<path d="M 96.8400 209.8800 L 206.2800 209.8800 L 315.7200 209.8800 L 425.1600 240.8400 L 534.6000 240.8400 L 644.0400 209.8800 L 753.4800 209.8800" clip-path="url(#p527ad0eb08)" style="fill: none; stroke: #9932cc; stroke-width: 2; stroke-linecap: square"/>
<defs>
<path id="ma977ada24a" d="M 0 3 C 0.795609 3 1.55874 2.683901 2.12132 2.12132 C 2.683901 1.55874 3 0.795609 3 0 C 3 -0.795609 2.683901 -1.55874 2.12132 -2.12132 C 1.55874 -2.683901 0.795609 -3 0 -3 C -0.795609 -3 -1.55874 -2.683901 -2.12132 -2.12132 C -2.683901 -1.55874 -3 -0.795609 -3 0 C -3 0.795609 -2.683901 1.55874 -2.12132 2.12132 C -1.55874 2.683901 -0.795609 3 0 3 z
" style="stroke: #9932cc"/>
</defs>
<g clip-path="url(#p527ad0eb08)">
<use href="#ma977ada24a" x="96.8400" y="209.8800" style="fill: #9932cc; stroke: #9932cc"/>
<use href="#ma977ada24a" x="206.2800" y="209.8800" style="fill: #9932cc; stroke: #9932cc"/>
<use href="#ma977ada24a" x="315.7200" y="209.8800" style="fill: #9932cc; stroke: #9932cc"/>
<use href="#ma977ada24a" x="425.1600" y="240.8400" style="fill: #9932cc; stroke: #9932cc"/>
<use href="#ma977ada24a" x="534.6000" y="240.8400" style="fill: #9932cc; stroke: #9932cc"/>
<use href="#ma977ada24a" x="644.0400" y="209.8800" style="fill: #9932cc; stroke: #9932cc"/>
<use href="#ma977ada24a" x="753.4800" y="209.8800" style="fill: #9932cc; stroke: #9932cc"/>
</g>
</g>
<g id="line2d_61">
<path d="M 96.8400 240.8400 L 206.2800 240.8400 L 315.7200 240.8400 L 425.1600 209.8800 L 534.6000 209.8800 L 644.0400 240.8400 L 753.4800 240.8400" clip-path="url(#p527ad0eb08)" style="fill: none; stroke: #ff69b4; stroke-width: 2; stroke-linecap: square"/>
<defs>
<path id="m52cf910bc9" d="M 0 3 C 0.795609 3 1.55874 2.683901 2.12132 2.12132 C 2.683901 1.55874 3 0.795609 3 0 C 3 -0.795609 2.683901 -1.55874 2.12132 -2.12132 C 1.55874 -2.683901 0.795609 -3 0 -3 C -0.795609 -3 -1.55874 -2.683901 -2.12132 -2.12132 C -2.683901 -1.55874 -3 -0.795609 -3 0 C -3 0.795609 -2.683901 1.55874 -2.12132 2.12132 C -1.55874 2.683901 -0.795609 3 0 3 z
" style="stroke: #ff69b4"/>
</defs>
<g clip-path="url(#p527ad0eb08)">
<use href="#m52cf910bc9" x="96.8400" y="240.8400" style="fill: #ff69b4; stroke: #ff69b4"/>
<use href="#m52cf910bc9" x="206.2800" y="240.8400" style="fill: #ff69b4; stroke: #ff69b4"/>
<use href="#m52cf910bc9" x="315.7200" y="240.8400" style="fill: #ff69b4; stroke: #ff69b4"/>
<use href="#m52cf910bc9" x="425.1600" y="209.8800" style="fill: #ff69b4; stroke: #ff69b4"/>
<use href="#m52cf910bc9" x="534.6000" y="209.8800" style="fill: #ff69b4; stroke: #ff69b4"/>
<use href="#m52cf910bc9" x="644.0400" y="240.8400" style="fill: #ff69b4; stroke: #ff69b4"/>
<use href="#m52cf910bc9" x="753.4800" y="240.8400" style="fill: #ff69b4; stroke: #ff69b4"/>
</g>
</g>
<g id="line2d_62">
<path d="M 96.8400 271.8000 L 206.2800 271.8000 L 315.7200 271.8000 L 425.1600 271.8000 L 534.6000 271.8000 L 644.0400 271.8000 L 753.4800 271.8000" clip-path="url(#p527ad0eb08)" style="fill: none; stroke: #00ced1; stroke-width: 2; stroke-linecap: square"/>
<defs>
<path id="mb5ca48beaf" d="M 0 3 C 0.795609 3 1.55874 2.683901 2.12132 2.12132 C 2.683901 1.55874 3 0.795609 3 0 C 3 -0.795609 2.683901 -1.55874 2.12132 -2.12132 C 1.55874 -2.683901 0.795609 -3 0 -3 C -0.795609 -3 -1.55874 -2.683901 -2.12132 -2.12132 C -2.683901 -1.55874 -3 -0.795609 -3 0 C -3 0.795609 -2.683901 1.55874 -2.12132 2.12132 C -1.55874 2.683901 -0.795609 3 0 3 z
" style="stroke: #00ced1"/>
</defs>
<g clip-path="url(#p527ad0eb08)">
<use href="#mb5ca48beaf" x="96.8400" y="271.8000" style="fill: #00ced1; stroke: #00ced1"/>
<use href="#mb5ca48beaf" x="206.2800" y="271.8000" style="fill: #00ced1; stroke: #00ced1"/>
<use href="#mb5ca48beaf" x="315.7200" y="271.8000" style="fill: #00ced1; stroke: #00ced1"/>
<use href="#mb5ca48beaf" x="425.1600" y="271.8000" style="fill: #00ced1; stroke: #00ced1"/>
<use href="#mb5ca48beaf" x="534.6000" y="271.8000" style="fill: #00ced1; stroke: #00ced1"/>
<use href="#mb5ca48beaf" x="644.0400" y="271.8000" style="fill: #00ced1; stroke: #00ced1"/>
<use href="#mb5ca48beaf" x="753.4800" y="271.8000" style="fill: #00ced1; stroke: #00ced1"/>
</g>
</g>
<g id="patch_3">
<path d="M 42.1200 657.0000 L 42.1200 40.6800" style="fill: none; stroke: #000000; stroke-width: 0.8; stroke-linejoin: miter; stroke-linecap: square"/>
</g>
<g id="patch_4">
<path d="M 993.9600 657.0000 L 993.9600 40.6800" style="fill: none; stroke: #000000; stroke-width: 0.8; stroke-linejoin: miter; stroke-linecap: square"/>
</g>
<g id="patch_5">
<path d="M 42.1200 657.0000 L 993.9600 657.0000" style="fill: none; stroke: #000000; stroke-width: 0.8; stroke-linejoin: miter; stroke-linecap: square"/>
</g>
<g id="patch_6">
<path d="M 42.1200 40.6800 L 993.9600 40.6800" style="fill: none; stroke: #000000; stroke-width: 0.8; stroke-linejoin: miter; stroke-linecap: square"/>
</g>
<g id="text_30">
<!-- 케이씨 -->
<g style="fill: #ff0000" transform="translate(772.9321 60.2208) scale(0.12 -0.12)">
<defs>
<path id="NanumGothicExtraBold-cf00" d="M 710 691 Q 634 653 595 656 Q 557 659 512 717 L 211 1120 Q 160 1190 153 1235 Q 147 1280 218 1331 Q 659 1619 998 1984 Q 1338 2349 1574 2746 Q 1286 2720 1001 2707 Q 717 2694 454 2694 Q 403 2694 368 2713 Q 333 2733 333 2816 L 333 3290 Q 333 3366 355 3388 Q 378 3411 422 3411 Q 845 3418 1200 3424 Q 1555 3430 1914 3456 Q 1965 3616 2003 3769 Q 2042 3923 2054 4070 Q 2074 4237 1926 4237 L 608 4237 Q 474 4237 474 4358 L 474 4832 Q 474 4960 608 4960 L 2451 4960 Q 2752 4960 2848 4848 Q 2944 4736 2944 4448 Q 2944 3866 2758 3290 L 3443 3290 L 3443 5222 Q 3443 5350 3571 5350 L 4160 5350 Q 4282 5350 4282 5222 L 4282 -358 Q 4282 -435 4256 -457 Q 4230 -480 4160 -480 L 3571 -480 Q 3501 -480 3472 -461 Q 3443 -442 3443 -358 L 3443 2566 L 2458 2566 Q 2170 2010 1728 1530 Q 1286 1050 710 691 z
M 5453 -698 L 4819 -698 Q 4749 -698 4723 -672 Q 4698 -646 4698 -576 L 4698 5331 Q 4698 5402 4726 5427 Q 4755 5453 4826 5453 L 5453 5453 Q 5523 5453 5548 5427 Q 5574 5402 5574 5331 L 5574 -576 Q 5574 -646 5548 -672 Q 5523 -698 5453 -698 z
" transform="scale(0.015625)"/>
<path id="NanumGothicExtraBold-c774" d="M 5178 -685 L 4538 -685 Q 4467 -685 4441 -662 Q 4416 -640 4416 -563 L 4416 5331 Q 4416 5402 4441 5427 Q 4467 5453 4538 5453 L 5178 5453 Q 5248 5453 5273 5427 Q 5299 5402 5299 5331 L 5299 -563 Q 5299 -640 5273 -662 Q 5248 -685 5178 -685 z
M 2125 819 Q 1754 819 1453 972 Q 1152 1126 941 1404 Q 730 1683 614 2067 Q 499 2451 499 2912 Q 499 3386 614 3779 Q 730 4173 941 4454 Q 1152 4736 1453 4893 Q 1754 5050 2125 5050 Q 2502 5050 2806 4896 Q 3110 4742 3321 4464 Q 3533 4186 3648 3792 Q 3763 3398 3763 2925 Q 3763 2451 3648 2064 Q 3533 1677 3321 1401 Q 3110 1126 2806 972 Q 2502 819 2125 819 z
M 2125 4275 Q 1958 4275 1820 4176 Q 1683 4077 1584 3897 Q 1485 3718 1430 3468 Q 1376 3219 1376 2925 Q 1376 2643 1430 2400 Q 1485 2157 1584 1977 Q 1683 1798 1820 1696 Q 1958 1594 2125 1594 Q 2298 1594 2435 1696 Q 2573 1798 2672 1977 Q 2771 2157 2825 2400 Q 2880 2643 2880 2925 Q 2880 3219 2825 3468 Q 2771 3718 2672 3897 Q 2573 4077 2435 4176 Q 2298 4275 2125 4275 z
" transform="scale(0.015625)"/>
<path id="NanumGothicExtraBold-c528" d="M 2061 621 Q 1984 531 1939 537 Q 1894 544 1830 595 L 1440 909 Q 1370 966 1373 1001 Q 1376 1037 1440 1120 Q 1658 1402 1843 1747 Q 1734 1862 1628 2006 Q 1523 2150 1434 2304 Q 1152 1677 698 1126 Q 634 1050 592 1053 Q 550 1056 499 1101 L 109 1414 Q 58 1459 51 1494 Q 45 1530 96 1594 Q 384 1946 576 2320 Q 768 2694 880 3107 Q 992 3520 1040 3987 Q 1088 4454 1088 5005 Q 1088 5152 1229 5152 L 1754 5139 Q 1901 5126 1901 4998 Q 1901 4102 1766 3386 Q 1843 3149 1955 2941 Q 2067 2733 2195 2560 Q 2579 3642 2579 5005 Q 2579 5075 2617 5116 Q 2656 5158 2733 5152 L 3245 5126 Q 3386 5114 3386 4992 Q 3386 4090 3232 3296 Q 3296 3014 3408 2768 Q 3520 2522 3651 2310 Q 3782 2099 3923 1929 Q 4064 1760 4179 1632 Q 4256 1549 4259 1517 Q 4262 1485 4192 1414 L 3866 1075 Q 3789 992 3731 1011 Q 3674 1030 3565 1139 Q 3386 1306 3210 1574 Q 3034 1843 2899 2099 Q 2579 1254 2061 621 z
M 5248 -685 L 4640 -685 Q 4570 -685 4544 -662 Q 4518 -640 4518 -563 L 4518 5331 Q 4518 5402 4544 5427 Q 4570 5453 4640 5453 L 5248 5453 Q 5318 5453 5344 5427 Q 5370 5402 5370 5331 L 5370 -563 Q 5370 -640 5344 -662 Q 5318 -685 5248 -685 z
" transform="scale(0.015625)"/>
</defs>
<use href="#NanumGothicExtraBold-cf00"/>
<use href="#NanumGothicExtraBold-c774" transform="translate(93.999985 0)"/>
<use href="#NanumGothicExtraBold-c528" transform="translate(187.999969 0)"/>
</g>
</g>
<g id="text_31">
<!-- 에스디바이오센서 -->
<g style="fill: #00ff00" transform="translate(772.9321 90.7189) scale(0.11 -0.11)">
<defs>
<path id="NanumGothicExtraBold-c5d0" d="M 5453 -691 L 4819 -691 Q 4749 -691 4723 -665 Q 4698 -640 4698 -570 L 4698 5331 Q 4698 5402 4726 5427 Q 4755 5453 4826 5453 L 5453 5453 Q 5523 5453 5548 5427 Q 5574 5402 5574 5331 L 5574 -570 Q 5574 -640 5548 -665 Q 5523 -691 5453 -691 z
M 4154 -480 L 3558 -480 Q 3488 -480 3462 -461 Q 3437 -442 3437 -358 L 3437 2605 L 2976 2605 Q 2931 2253 2812 1945 Q 2694 1638 2515 1414 Q 2336 1190 2102 1059 Q 1869 928 1594 928 Q 1280 928 1027 1085 Q 774 1242 598 1517 Q 422 1792 329 2169 Q 237 2547 237 2982 Q 237 3469 336 3849 Q 435 4230 617 4492 Q 800 4755 1046 4896 Q 1293 5037 1594 5037 Q 1869 5037 2109 4921 Q 2349 4806 2534 4585 Q 2720 4365 2838 4048 Q 2957 3731 2995 3328 L 3437 3328 L 3437 5222 Q 3437 5293 3462 5318 Q 3488 5344 3558 5344 L 4154 5344 Q 4275 5344 4275 5222 L 4275 -358 Q 4275 -435 4249 -457 Q 4224 -480 4154 -480 z
M 1600 4282 Q 1446 4282 1344 4160 Q 1242 4038 1181 3846 Q 1120 3654 1091 3424 Q 1062 3194 1062 2976 Q 1062 2765 1091 2534 Q 1120 2304 1184 2112 Q 1248 1920 1350 1795 Q 1453 1670 1600 1670 Q 1734 1670 1840 1782 Q 1946 1894 2022 2076 Q 2099 2259 2137 2496 Q 2176 2733 2176 2976 Q 2176 3232 2137 3465 Q 2099 3699 2025 3881 Q 1952 4064 1843 4173 Q 1734 4282 1600 4282 z
" transform="scale(0.015625)"/>
<path id="NanumGothicExtraBold-c2a4" d="M 928 2067 Q 838 2035 806 2048 Q 774 2061 736 2125 L 486 2573 Q 403 2720 518 2765 Q 986 2938 1341 3162 Q 1696 3386 1945 3667 Q 2195 3949 2339 4294 Q 2483 4640 2528 5069 Q 2541 5139 2566 5171 Q 2592 5203 2682 5197 L 3290 5158 Q 3405 5146 3427 5117 Q 3450 5088 3437 4998 Q 3424 4819 3398 4659 Q 3488 4339 3683 4064 Q 3878 3789 4147 3565 Q 4416 3341 4736 3171 Q 5056 3002 5402 2899 Q 5485 2874 5491 2835 Q 5498 2797 5459 2726 L 5229 2253 Q 5203 2214 5197 2195 Q 5184 2170 5171 2170 Q 5146 2150 5069 2170 Q 4787 2234 4496 2371 Q 4205 2509 3929 2694 Q 3654 2880 3417 3117 Q 3181 3354 3008 3622 Q 2675 3078 2131 2684 Q 1587 2291 928 2067 z
M 5747 403 L 250 403 Q 166 403 144 441 Q 122 480 122 538 L 122 998 Q 122 1069 144 1101 Q 166 1133 250 1133 L 5747 1133 Q 5882 1133 5882 998 L 5882 538 Q 5882 403 5747 403 z
" transform="scale(0.015625)"/>
<path id="NanumGothicExtraBold-b514" d="M 5178 -685 L 4538 -685 Q 4467 -685 4441 -662 Q 4416 -640 4416 -563 L 4416 5331 Q 4416 5402 4441 5427 Q 4467 5453 4538 5453 L 5178 5453 Q 5248 5453 5273 5427 Q 5299 5402 5299 5331 L 5299 -563 Q 5299 -640 5273 -662 Q 5248 -685 5178 -685 z
M 3942 1267 Q 3674 1203 3293 1155 Q 2912 1107 2509 1078 Q 2106 1050 1725 1040 Q 1344 1030 1069 1043 Q 838 1050 726 1126 Q 614 1203 614 1472 L 614 4563 Q 614 4691 633 4771 Q 653 4851 701 4896 Q 749 4941 835 4957 Q 922 4973 1056 4973 L 3424 4973 Q 3494 4973 3526 4950 Q 3558 4928 3558 4858 L 3558 4352 Q 3558 4282 3526 4262 Q 3494 4243 3424 4243 L 1594 4243 Q 1530 4243 1517 4217 Q 1504 4192 1504 4154 L 1504 1888 Q 1504 1786 1606 1786 Q 1837 1786 2121 1795 Q 2406 1805 2704 1827 Q 3002 1850 3296 1882 Q 3590 1914 3840 1958 Q 3910 1971 3936 1948 Q 3962 1926 3974 1875 L 4051 1408 Q 4064 1338 4041 1312 Q 4019 1286 3942 1267 z
" transform="scale(0.015625)"/>
<path id="NanumGothicExtraBold-bc14" d="M 5843 2419 L 5050 2419 L 5050 -563 Q 5050 -640 5027 -662 Q 5005 -685 4934 -685 L 4288 -685 Q 4218 -685 4189 -662 Q 4160 -640 4160 -563 L 4160 5331 Q 4160 5402 4189 5427 Q 4218 5453 4288 5453 L 4934 5453 Q 5005 5453 5027 5427 Q 5050 5402 5050 5331 L 5050 3149 L 5843 3149 Q 5901 3149 5936 3133 Q 5971 3117 5971 3027 L 5971 2541 Q 5971 2464 5936 2441 Q 5901 2419 5843 2419 z
M 2963 1094 L 1005 1094 Q 851 1094 752 1113 Q 653 1133 598 1181 Q 544 1229 525 1318 Q 506 1408 506 1555 L 506 4992 Q 506 5114 621 5114 L 1267 5114 Q 1395 5114 1395 4992 L 1395 3725 L 2560 3725 L 2560 4998 Q 2560 5126 2688 5126 L 3328 5126 Q 3450 5126 3450 4998 L 3450 1536 Q 3450 1286 3354 1190 Q 3258 1094 2963 1094 z
M 2560 3002 L 1395 3002 L 1395 1914 Q 1395 1818 1491 1818 L 2464 1818 Q 2560 1818 2560 1914 L 2560 3002 z
" transform="scale(0.015625)"/>
<path id="NanumGothicExtraBold-c624" d="M 5747 358 L 250 358 Q 166 358 144 396 Q 122 435 122 493 L 122 954 Q 122 1024 144 1056 Q 166 1088 250 1088 L 2554 1088 L 2554 2048 Q 2157 2099 1837 2236 Q 1517 2374 1293 2582 Q 1069 2790 944 3059 Q 819 3328 819 3642 Q 819 3994 976 4291 Q 1133 4589 1421 4803 Q 1709 5018 2112 5136 Q 2515 5254 3002 5254 Q 3494 5254 3894 5136 Q 4294 5018 4579 4803 Q 4864 4589 5021 4291 Q 5178 3994 5178 3642 Q 5178 3322 5056 3053 Q 4934 2784 4707 2579 Q 4480 2374 4160 2236 Q 3840 2099 3443 2048 L 3443 1088 L 5747 1088 Q 5882 1088 5882 954 L 5882 493 Q 5882 358 5747 358 z
M 3002 4512 Q 2701 4512 2461 4441 Q 2221 4371 2051 4252 Q 1882 4134 1789 3977 Q 1696 3821 1696 3642 Q 1696 3456 1789 3296 Q 1882 3136 2051 3017 Q 2221 2899 2461 2828 Q 2701 2758 3002 2758 Q 3296 2758 3536 2828 Q 3776 2899 3945 3017 Q 4115 3136 4204 3296 Q 4294 3456 4294 3642 Q 4294 3821 4204 3977 Q 4115 4134 3945 4252 Q 3776 4371 3536 4441 Q 3296 4512 3002 4512 z
" transform="scale(0.015625)"/>
<path id="NanumGothicExtraBold-c13c" d="M 2874 2010 Q 2822 1939 2774 1939 Q 2726 1939 2656 1990 Q 2560 2048 2441 2150 Q 2323 2253 2201 2377 Q 2080 2502 1965 2643 Q 1850 2784 1766 2931 Q 1562 2560 1286 2259 Q 1011 1958 685 1754 Q 595 1702 566 1705 Q 538 1709 493 1766 L 192 2150 Q 141 2214 115 2262 Q 90 2310 179 2381 Q 525 2630 758 2940 Q 992 3251 1136 3596 Q 1280 3942 1344 4304 Q 1408 4666 1408 5011 Q 1408 5101 1433 5126 Q 1459 5152 1549 5146 L 2144 5114 Q 2214 5107 2243 5081 Q 2272 5056 2272 4986 Q 2272 4710 2240 4448 Q 2208 4186 2150 3930 Q 2304 3482 2573 3171 Q 2842 2861 3149 2618 Q 3213 2566 3209 2528 Q 3206 2490 3168 2438 L 2874 2010 z
M 5600 -582 L 1914 -582 Q 1779 -582 1692 -560 Q 1606 -538 1558 -486 Q 1510 -435 1491 -345 Q 1472 -256 1472 -122 L 1472 1306 Q 1472 1440 1600 1440 L 2234 1440 Q 2362 1440 2362 1306 L 2362 243 Q 2362 147 2464 147 L 5600 147 Q 5651 147 5689 124 Q 5728 102 5728 32 L 5728 -467 Q 5728 -557 5689 -569 Q 5651 -582 5600 -582 z
M 2835 3430 Q 2714 3430 2714 3558 L 2714 4019 Q 2714 4109 2746 4125 Q 2778 4141 2835 4141 L 3482 4141 L 3482 5229 Q 3482 5299 3510 5324 Q 3539 5350 3610 5350 L 4211 5350 Q 4282 5350 4307 5324 Q 4333 5299 4333 5229 L 4333 1459 Q 4333 1389 4307 1366 Q 4282 1344 4211 1344 L 3610 1344 Q 3539 1344 3510 1366 Q 3482 1389 3482 1459 L 3482 3430 L 2835 3430 z
M 5453 1197 L 4819 1197 Q 4749 1197 4723 1222 Q 4698 1248 4698 1318 L 4698 5331 Q 4698 5453 4826 5453 L 5453 5453 Q 5523 5453 5548 5427 Q 5574 5402 5574 5331 L 5574 1318 Q 5574 1248 5548 1222 Q 5523 1197 5453 1197 z
" transform="scale(0.015625)"/>
<path id="NanumGothicExtraBold-c11c" d="M 5286 -685 L 4634 -685 Q 4563 -685 4537 -662 Q 4512 -640 4512 -563 L 4512 2746 L 3347 2746 Q 3290 2746 3258 2768 Q 3226 2790 3226 2861 L 3226 3354 Q 3226 3424 3258 3449 Q 3290 3475 3347 3475 L 4512 3475 L 4512 5331 Q 4512 5402 4537 5427 Q 4563 5453 4634 5453 L 5286 5453 Q 5357 5453 5379 5427 Q 5402 5402 5402 5331 L 5402 -563 Q 5402 -640 5379 -662 Q 5357 -685 5286 -685 z
M 3405 800 Q 3322 698 3174 813 Q 3053 896 2905 1049 Q 2758 1203 2604 1395 Q 2451 1587 2307 1801 Q 2163 2016 2061 2227 Q 1837 1766 1523 1363 Q 1210 960 896 704 Q 806 634 761 627 Q 717 621 653 685 L 301 1050 Q 250 1101 250 1149 Q 250 1197 333 1274 Q 698 1626 1002 2096 Q 1306 2566 1472 3072 Q 1606 3482 1670 3962 Q 1734 4442 1734 5005 Q 1734 5075 1756 5110 Q 1779 5146 1869 5146 L 2483 5126 Q 2573 5120 2592 5085 Q 2611 5050 2611 4973 Q 2611 4499 2569 4092 Q 2528 3686 2438 3302 Q 2522 3040 2672 2761 Q 2822 2483 2998 2230 Q 3174 1978 3353 1770 Q 3533 1562 3686 1434 Q 3776 1363 3773 1308 Q 3770 1254 3712 1184 L 3405 800 z
" transform="scale(0.015625)"/>
</defs>
<use href="#NanumGothicExtraBold-c5d0"/>
<use href="#NanumGothicExtraBold-c2a4" transform="translate(93.999985 0)"/>
<use href="#NanumGothicExtraBold-b514" transform="translate(187.999969 0)"/>
<use href="#NanumGothicExtraBold-bc14" transform="translate(281.999954 0)"/>
<use href="#NanumGothicExtraBold-c774" transform="translate(375.999939 0)"/>
<use href="#NanumGothicExtraBold-c624" transform="translate(469.999924 0)"/>
<use href="#NanumGothicExtraBold-c13c" transform="translate(563.999908 0)"/>
<use href="#NanumGothicExtraBold-c11c" transform="translate(657.999893 0)"/>
</g>
</g>
<g id="text_32">
<!-- 미래산업 -->
<g style="fill: #0000ff" transform="translate(772.9321 121.8830) scale(0.12 -0.12)">
<defs>
<path id="NanumGothicExtraBold-bbf8" d="M 5178 -685 L 4538 -685 Q 4467 -685 4441 -662 Q 4416 -640 4416 -563 L 4416 5331 Q 4416 5402 4441 5427 Q 4467 5453 4538 5453 L 5178 5453 Q 5248 5453 5273 5427 Q 5299 5402 5299 5331 L 5299 -563 Q 5299 -640 5273 -662 Q 5248 -685 5178 -685 z
M 3162 1107 L 1043 1107 Q 896 1107 803 1123 Q 710 1139 659 1187 Q 608 1235 589 1321 Q 570 1408 570 1555 L 570 4557 Q 570 4832 669 4909 Q 768 4986 1011 4986 L 3162 4986 Q 3296 4986 3382 4973 Q 3469 4960 3517 4915 Q 3565 4870 3584 4784 Q 3603 4698 3603 4557 L 3603 1555 Q 3603 1414 3584 1324 Q 3565 1235 3517 1187 Q 3469 1139 3382 1123 Q 3296 1107 3162 1107 z
M 2720 4134 Q 2720 4218 2704 4240 Q 2688 4262 2611 4262 L 1581 4262 Q 1498 4262 1475 4243 Q 1453 4224 1453 4134 L 1453 1958 Q 1453 1869 1475 1849 Q 1498 1830 1581 1830 L 2611 1830 Q 2688 1830 2704 1852 Q 2720 1875 2720 1958 L 2720 4134 z
" transform="scale(0.015625)"/>
<path id="NanumGothicExtraBold-b798" d="M 5459 -685 L 4813 -685 Q 4742 -685 4720 -662 Q 4698 -640 4698 -570 L 4698 2426 L 4192 2426 L 4192 -333 Q 4192 -416 4169 -432 Q 4147 -448 4077 -448 L 3475 -448 Q 3405 -448 3379 -432 Q 3354 -416 3354 -333 L 3354 5222 Q 3354 5293 3379 5315 Q 3405 5338 3475 5338 L 4077 5338 Q 4147 5338 4169 5315 Q 4192 5293 4192 5222 L 4192 3149 L 4698 3149 L 4698 5338 Q 4698 5408 4723 5430 Q 4749 5453 4819 5453 L 5459 5453 Q 5530 5453 5552 5430 Q 5574 5408 5574 5338 L 5574 -570 Q 5574 -640 5552 -662 Q 5530 -685 5459 -685 z
M 2970 992 Q 2752 934 2470 896 Q 2189 858 1897 832 Q 1606 806 1328 803 Q 1050 800 832 813 Q 550 832 451 928 Q 352 1024 352 1267 L 352 2938 Q 352 3142 441 3225 Q 531 3309 736 3309 L 1811 3309 Q 1869 3309 1885 3325 Q 1901 3341 1901 3398 L 1901 4179 Q 1901 4237 1885 4253 Q 1869 4269 1811 4269 L 518 4269 Q 390 4269 390 4390 L 390 4877 Q 390 4947 419 4972 Q 448 4998 518 4998 L 2317 4998 Q 2458 4998 2544 4976 Q 2630 4954 2675 4902 Q 2720 4851 2736 4768 Q 2752 4685 2752 4557 L 2752 3078 Q 2752 2810 2646 2717 Q 2541 2624 2310 2624 L 1286 2624 Q 1203 2624 1203 2541 L 1203 1626 Q 1203 1542 1299 1542 Q 1613 1530 1990 1558 Q 2368 1587 2867 1677 Q 2938 1690 2954 1667 Q 2970 1645 2982 1594 L 3066 1120 Q 3078 1050 3059 1030 Q 3040 1011 2970 992 z
" transform="scale(0.015625)"/>
<path id="NanumGothicExtraBold-c0b0" d="M 774 1747 Q 653 1670 611 1670 Q 570 1670 518 1741 L 205 2150 Q 134 2240 153 2281 Q 173 2323 250 2381 Q 582 2630 838 2940 Q 1094 3251 1264 3603 Q 1434 3955 1520 4332 Q 1606 4710 1606 5094 Q 1606 5203 1635 5225 Q 1664 5248 1754 5242 L 2381 5216 Q 2451 5210 2476 5187 Q 2502 5165 2502 5094 Q 2502 4826 2470 4573 Q 2438 4320 2381 4077 Q 2458 3846 2605 3625 Q 2752 3405 2928 3209 Q 3104 3014 3293 2857 Q 3482 2701 3642 2598 Q 3693 2566 3712 2540 Q 3731 2515 3731 2496 Q 3725 2483 3721 2470 Q 3718 2458 3712 2445 Q 3699 2426 3689 2410 Q 3680 2394 3667 2374 L 3411 1971 Q 3360 1901 3321 1897 Q 3283 1894 3194 1939 Q 3053 2010 2893 2128 Q 2733 2246 2576 2400 Q 2419 2554 2272 2733 Q 2125 2912 2016 3104 Q 1792 2688 1481 2345 Q 1171 2003 774 1747 z
M 5843 2899 L 5050 2899 L 5050 1267 Q 5050 1197 5027 1171 Q 5005 1146 4934 1146 L 4288 1146 Q 4218 1146 4189 1171 Q 4160 1197 4160 1267 L 4160 5331 Q 4160 5453 4288 5453 L 4934 5453 Q 5050 5453 5050 5331 L 5050 3629 L 5843 3629 Q 5894 3629 5932 3616 Q 5971 3603 5971 3520 L 5971 3014 Q 5971 2944 5936 2921 Q 5901 2899 5843 2899 z
M 5178 -582 L 1690 -582 Q 1555 -582 1468 -560 Q 1382 -538 1334 -486 Q 1286 -435 1267 -345 Q 1248 -256 1248 -122 L 1248 1306 Q 1248 1440 1376 1440 L 2003 1440 Q 2138 1440 2138 1306 L 2138 243 Q 2138 147 2234 147 L 5178 147 Q 5229 147 5270 124 Q 5312 102 5312 32 L 5312 -467 Q 5312 -557 5270 -569 Q 5229 -582 5178 -582 z
" transform="scale(0.015625)"/>
<path id="NanumGothicExtraBold-c5c5" d="M 1990 2336 Q 1638 2336 1353 2457 Q 1069 2579 864 2780 Q 659 2982 547 3248 Q 435 3514 435 3808 Q 435 4102 547 4371 Q 659 4640 864 4845 Q 1069 5050 1353 5171 Q 1638 5293 1990 5293 Q 2298 5293 2554 5203 Q 2810 5114 3008 4954 Q 3206 4794 3337 4582 Q 3469 4371 3520 4128 L 4422 4128 L 4422 5331 Q 4422 5414 4460 5433 Q 4499 5453 4557 5453 L 5190 5453 Q 5274 5453 5290 5417 Q 5306 5382 5306 5331 L 5306 2394 Q 5306 2272 5184 2272 L 4544 2272 Q 4422 2272 4422 2387 L 4422 3398 L 3501 3398 Q 3430 3174 3296 2979 Q 3162 2784 2966 2640 Q 2771 2496 2524 2416 Q 2278 2336 1990 2336 z
M 4813 -576 L 1971 -576 Q 1818 -576 1722 -557 Q 1626 -538 1571 -490 Q 1517 -442 1494 -352 Q 1472 -262 1472 -115 L 1472 1779 Q 1472 1894 1594 1894 L 2234 1894 Q 2304 1894 2333 1872 Q 2362 1850 2362 1779 L 2362 1312 L 4416 1312 L 4416 1805 Q 4416 1875 4448 1900 Q 4480 1926 4538 1926 L 5190 1926 Q 5248 1926 5277 1900 Q 5306 1875 5306 1805 L 5306 -134 Q 5306 -384 5213 -480 Q 5120 -576 4813 -576 z
M 1990 4550 Q 1830 4550 1699 4489 Q 1568 4429 1472 4326 Q 1376 4224 1325 4089 Q 1274 3955 1274 3808 Q 1274 3661 1325 3533 Q 1376 3405 1472 3302 Q 1568 3200 1699 3142 Q 1830 3085 1990 3085 Q 2157 3085 2291 3142 Q 2426 3200 2522 3302 Q 2618 3405 2669 3533 Q 2720 3661 2720 3808 Q 2720 3955 2665 4089 Q 2611 4224 2515 4326 Q 2419 4429 2284 4489 Q 2150 4550 1990 4550 z
M 4416 602 L 2362 602 L 2362 205 Q 2362 147 2426 147 L 4352 147 Q 4416 147 4416 205 L 4416 602 z
" transform="scale(0.015625)"/>
</defs>
<use href="#NanumGothicExtraBold-bbf8"/>
<use href="#NanumGothicExtraBold-b798" transform="translate(93.999985 0)"/>
<use href="#NanumGothicExtraBold-c0b0" transform="translate(187.999969 0)"/>
<use href="#NanumGothicExtraBold-c5c5" transform="translate(281.999954 0)"/>
</g>
</g>
<g id="text_33">
<!-- 한컴라이프케어 -->
<g style="fill: #ffd700" transform="translate(772.9321 152.3812) scale(0.11 -0.11)">
<defs>
<path id="NanumGothicExtraBold-d55c" d="M 5837 2605 L 5062 2605 L 5062 896 Q 5062 826 5040 800 Q 5018 774 4947 774 L 4301 774 Q 4230 774 4201 800 Q 4173 826 4173 896 L 4173 5331 Q 4173 5453 4301 5453 L 4947 5453 Q 5062 5453 5062 5331 L 5062 3334 L 5837 3334 Q 5888 3334 5926 3321 Q 5965 3309 5965 3219 L 5965 2720 Q 5965 2650 5929 2627 Q 5894 2605 5837 2605 z
M 2912 4723 L 1248 4723 Q 1197 4723 1155 4745 Q 1114 4768 1114 4858 L 1114 5267 Q 1114 5357 1155 5379 Q 1197 5402 1248 5402 L 2912 5402 Q 3053 5402 3053 5261 L 3053 4864 Q 3053 4794 3027 4758 Q 3002 4723 2912 4723 z
M 3731 3802 L 378 3802 Q 243 3802 243 3942 L 243 4339 Q 243 4474 384 4474 L 3731 4474 Q 3872 4474 3872 4339 L 3872 3936 Q 3872 3802 3731 3802 z
M 2099 1389 Q 1811 1389 1555 1472 Q 1299 1555 1107 1702 Q 915 1850 803 2054 Q 691 2259 691 2502 Q 691 2739 803 2944 Q 915 3149 1107 3296 Q 1299 3443 1558 3526 Q 1818 3610 2106 3610 Q 2394 3610 2653 3526 Q 2912 3443 3104 3296 Q 3296 3149 3408 2944 Q 3520 2739 3520 2502 Q 3520 2259 3408 2054 Q 3296 1850 3104 1702 Q 2912 1555 2653 1472 Q 2394 1389 2099 1389 z
M 5178 -602 L 1690 -602 Q 1555 -602 1468 -579 Q 1382 -557 1334 -505 Q 1286 -454 1267 -364 Q 1248 -275 1248 -141 L 1248 947 Q 1248 1075 1376 1075 L 2003 1075 Q 2138 1075 2138 947 L 2138 211 Q 2138 115 2234 115 L 5178 115 Q 5229 115 5270 92 Q 5312 70 5312 0 L 5312 -486 Q 5312 -576 5270 -589 Q 5229 -602 5178 -602 z
M 2106 2970 Q 1830 2970 1673 2829 Q 1517 2688 1517 2502 Q 1517 2310 1677 2163 Q 1837 2016 2106 2016 Q 2374 2016 2534 2163 Q 2694 2310 2694 2502 Q 2694 2688 2537 2829 Q 2381 2970 2106 2970 z
" transform="scale(0.015625)"/>
<path id="NanumGothicExtraBold-cef4" d="M 4819 -589 L 1933 -589 Q 1773 -589 1677 -569 Q 1581 -550 1526 -496 Q 1472 -442 1453 -352 Q 1434 -262 1434 -122 L 1434 1229 Q 1434 1510 1530 1606 Q 1626 1702 1894 1702 L 4787 1702 Q 4947 1702 5046 1680 Q 5146 1658 5200 1603 Q 5254 1549 5273 1456 Q 5293 1363 5293 1222 L 5293 -128 Q 5293 -269 5270 -358 Q 5248 -448 5193 -499 Q 5139 -550 5046 -569 Q 4954 -589 4819 -589 z
M 832 1747 Q 800 1734 781 1728 Q 762 1722 742 1715 Q 691 1702 675 1712 Q 659 1722 634 1773 L 410 2266 Q 378 2336 387 2365 Q 397 2394 486 2426 Q 870 2592 1187 2800 Q 1504 3008 1747 3238 Q 1472 3226 1203 3219 Q 934 3213 698 3213 Q 570 3213 570 3354 L 570 3795 Q 570 3885 595 3907 Q 621 3930 691 3930 Q 870 3930 1078 3933 Q 1286 3936 1497 3939 Q 1709 3942 1917 3948 Q 2125 3955 2310 3968 Q 2400 4141 2464 4339 Q 2490 4416 2477 4448 Q 2464 4480 2362 4480 L 768 4480 Q 685 4480 665 4518 Q 646 4557 646 4614 L 646 5075 Q 646 5146 672 5174 Q 698 5203 774 5203 L 2931 5203 Q 3226 5203 3331 5104 Q 3437 5005 3437 4762 Q 3437 4371 3261 3939 Q 3085 3507 2749 3097 Q 2413 2688 1929 2333 Q 1446 1978 832 1747 z
M 3482 3187 Q 3360 3187 3360 3315 L 3360 3789 Q 3360 3872 3395 3891 Q 3430 3910 3482 3910 L 4422 3910 L 4422 5331 Q 4422 5414 4460 5433 Q 4499 5453 4557 5453 L 5190 5453 Q 5274 5453 5290 5417 Q 5306 5382 5306 5331 L 5306 2170 Q 5306 2048 5184 2048 L 4544 2048 Q 4422 2048 4422 2163 L 4422 3187 L 3482 3187 z
M 4403 902 Q 4403 979 4326 979 L 2400 979 Q 2317 979 2317 896 L 2317 211 Q 2317 134 2400 134 L 4320 134 Q 4371 134 4387 144 Q 4403 154 4403 218 L 4403 902 z
" transform="scale(0.015625)"/>
<path id="NanumGothicExtraBold-b77c" d="M 5843 2419 L 5050 2419 L 5050 -563 Q 5050 -640 5027 -662 Q 5005 -685 4934 -685 L 4288 -685 Q 4218 -685 4189 -662 Q 4160 -640 4160 -563 L 4160 5331 Q 4160 5402 4189 5427 Q 4218 5453 4288 5453 L 4934 5453 Q 5005 5453 5027 5427 Q 5050 5402 5050 5331 L 5050 3149 L 5843 3149 Q 5901 3149 5936 3133 Q 5971 3117 5971 3027 L 5971 2541 Q 5971 2464 5936 2441 Q 5901 2419 5843 2419 z
M 3757 986 Q 3469 928 3120 883 Q 2771 838 2403 809 Q 2035 781 1664 774 Q 1293 768 960 781 Q 678 787 579 889 Q 480 992 480 1235 L 480 2938 Q 480 3142 569 3225 Q 659 3309 864 3309 L 2362 3309 Q 2419 3309 2435 3325 Q 2451 3341 2451 3398 L 2451 4179 Q 2451 4237 2435 4253 Q 2419 4269 2362 4269 L 646 4269 Q 518 4269 518 4390 L 518 4877 Q 518 4947 547 4972 Q 576 4998 646 4998 L 2899 4998 Q 3040 4998 3126 4976 Q 3213 4954 3257 4902 Q 3302 4851 3318 4768 Q 3334 4685 3334 4557 L 3334 3078 Q 3334 2810 3228 2717 Q 3123 2624 2893 2624 L 1440 2624 Q 1357 2624 1357 2541 L 1357 1587 Q 1357 1504 1453 1504 Q 2016 1491 2589 1536 Q 3162 1581 3674 1670 Q 3738 1683 3757 1660 Q 3776 1638 3789 1587 L 3859 1114 Q 3872 1043 3849 1020 Q 3827 998 3757 986 z
" transform="scale(0.015625)"/>
<path id="NanumGothicExtraBold-d504" d="M 5133 2042 L 858 2042 Q 717 2042 717 2189 L 717 2643 Q 717 2765 858 2765 L 1568 2765 L 1568 4288 L 973 4288 Q 826 4288 826 4429 L 826 4883 Q 826 4954 867 4986 Q 909 5018 973 5018 L 5024 5018 Q 5165 5018 5165 4883 L 5165 4422 Q 5165 4288 5024 4288 L 4422 4288 L 4422 2765 L 5133 2765 Q 5274 2765 5274 2643 L 5274 2182 Q 5274 2042 5133 2042 z
M 5747 403 L 250 403 Q 166 403 144 441 Q 122 480 122 538 L 122 998 Q 122 1069 144 1101 Q 166 1133 250 1133 L 5747 1133 Q 5882 1133 5882 998 L 5882 538 Q 5882 403 5747 403 z
M 2445 2765 L 3546 2765 L 3546 4288 L 2445 4288 L 2445 2765 z
" transform="scale(0.015625)"/>
<path id="NanumGothicExtraBold-c5b4" d="M 2035 762 Q 1670 762 1376 928 Q 1082 1094 874 1382 Q 666 1670 554 2064 Q 442 2458 442 2912 Q 442 3386 554 3782 Q 666 4179 874 4467 Q 1082 4755 1376 4918 Q 1670 5082 2035 5082 Q 2368 5082 2643 4950 Q 2918 4819 3120 4585 Q 3322 4352 3450 4022 Q 3578 3693 3622 3296 L 4461 3296 L 4461 5331 Q 4461 5402 4483 5427 Q 4506 5453 4576 5453 L 5222 5453 Q 5293 5453 5318 5427 Q 5344 5402 5344 5331 L 5344 -563 Q 5344 -640 5318 -662 Q 5293 -685 5222 -685 L 4576 -685 Q 4506 -685 4483 -662 Q 4461 -640 4461 -563 L 4461 2566 L 3629 2566 Q 3590 2163 3462 1833 Q 3334 1504 3129 1264 Q 2925 1024 2646 893 Q 2368 762 2035 762 z
M 2035 4320 Q 1875 4320 1744 4214 Q 1613 4109 1517 3920 Q 1421 3731 1366 3475 Q 1312 3219 1312 2912 Q 1312 2618 1366 2365 Q 1421 2112 1517 1923 Q 1613 1734 1744 1628 Q 1875 1523 2035 1523 Q 2202 1523 2339 1632 Q 2477 1741 2576 1926 Q 2675 2112 2729 2368 Q 2784 2624 2784 2912 Q 2784 3219 2729 3475 Q 2675 3731 2576 3920 Q 2477 4109 2339 4214 Q 2202 4320 2035 4320 z
" transform="scale(0.015625)"/>
</defs>
<use href="#NanumGothicExtraBold-d55c"/>
<use href="#NanumGothicExtraBold-cef4" transform="translate(93.999985 0)"/>
<use href="#NanumGothicExtraBold-b77c" transform="translate(187.999969 0)"/>
<use href="#NanumGothicExtraBold-c774" transform="translate(281.999954 0)"/>
<use href="#NanumGothicExtraBold-d504" transform="translate(375.999939 0)"/>
<use href="#NanumGothicExtraBold-cf00" transform="translate(469.999924 0)"/>
<use href="#NanumGothicExtraBold-c5b4" transform="translate(563.999908 0)"/>
</g>
</g>
<g id="text_34">
<!-- 덴티움 -->
<g style="fill: #ff6347" transform="translate(772.9321 183.5453) scale(0.12 -0.12)">
<defs>
<path id="NanumGothicExtraBold-b374" d="M 3027 2035 Q 2810 1984 2541 1949 Q 2272 1914 1987 1894 Q 1702 1875 1430 1872 Q 1158 1869 934 1882 Q 666 1894 541 2003 Q 416 2112 416 2374 L 416 4704 Q 416 4832 435 4912 Q 454 4992 502 5037 Q 550 5082 636 5098 Q 723 5114 858 5114 L 2682 5114 Q 2810 5114 2810 5005 L 2810 4499 Q 2810 4390 2682 4390 L 1382 4390 Q 1318 4390 1305 4364 Q 1293 4339 1293 4301 L 1293 2701 Q 1293 2630 1315 2611 Q 1338 2592 1414 2586 Q 1568 2573 1760 2579 Q 1952 2586 2153 2602 Q 2355 2618 2550 2646 Q 2746 2675 2912 2707 Q 2995 2720 3024 2704 Q 3053 2688 3066 2618 L 3130 2176 Q 3142 2106 3120 2077 Q 3098 2048 3027 2035 z
M 5600 -582 L 1914 -582 Q 1779 -582 1692 -560 Q 1606 -538 1558 -486 Q 1510 -435 1491 -345 Q 1472 -256 1472 -122 L 1472 1274 Q 1472 1408 1600 1408 L 2227 1408 Q 2362 1408 2362 1274 L 2362 243 Q 2362 147 2464 147 L 5600 147 Q 5651 147 5689 124 Q 5728 102 5728 32 L 5728 -467 Q 5728 -557 5689 -569 Q 5651 -582 5600 -582 z
M 2509 3194 Q 2445 3194 2409 3219 Q 2374 3245 2374 3322 L 2374 3776 Q 2374 3859 2416 3872 Q 2458 3885 2509 3885 L 3469 3885 L 3469 5229 Q 3469 5299 3497 5324 Q 3526 5350 3597 5350 L 4198 5350 Q 4269 5350 4294 5324 Q 4320 5299 4320 5229 L 4320 1446 Q 4320 1376 4294 1353 Q 4269 1331 4198 1331 L 3597 1331 Q 3526 1331 3497 1353 Q 3469 1376 3469 1446 L 3469 3194 L 2509 3194 z
M 5453 1133 L 4819 1133 Q 4749 1133 4723 1158 Q 4698 1184 4698 1254 L 4698 5331 Q 4698 5453 4826 5453 L 5453 5453 Q 5523 5453 5548 5427 Q 5574 5402 5574 5331 L 5574 1254 Q 5574 1184 5548 1158 Q 5523 1133 5453 1133 z
" transform="scale(0.015625)"/>
<path id="NanumGothicExtraBold-d2f0" d="M 3840 1126 Q 3571 1062 3209 1014 Q 2848 966 2464 937 Q 2080 909 1715 899 Q 1350 890 1075 902 Q 845 909 733 985 Q 621 1062 621 1331 L 621 4563 Q 621 4691 640 4771 Q 659 4851 707 4896 Q 755 4941 841 4957 Q 928 4973 1062 4973 L 3398 4973 Q 3469 4973 3501 4950 Q 3533 4928 3533 4858 L 3533 4352 Q 3533 4282 3501 4262 Q 3469 4243 3398 4243 L 1600 4243 Q 1536 4243 1523 4217 Q 1510 4192 1510 4154 L 1510 3366 Q 1984 3366 2480 3369 Q 2976 3373 3354 3398 Q 3411 3398 3456 3385 Q 3501 3373 3501 3309 L 3501 2835 Q 3501 2790 3494 2771 Q 3494 2739 3488 2726 Q 3475 2714 3459 2701 Q 3443 2688 3392 2688 Q 2989 2669 2480 2656 Q 1971 2643 1510 2643 L 1510 1747 Q 1510 1645 1613 1645 Q 2086 1645 2656 1686 Q 3226 1728 3738 1818 Q 3808 1830 3833 1808 Q 3859 1786 3872 1734 L 3949 1267 Q 3962 1197 3939 1171 Q 3917 1146 3840 1126 z
M 5178 -685 L 4538 -685 Q 4467 -685 4441 -662 Q 4416 -640 4416 -563 L 4416 5331 Q 4416 5402 4441 5427 Q 4467 5453 4538 5453 L 5178 5453 Q 5248 5453 5273 5427 Q 5299 5402 5299 5331 L 5299 -563 Q 5299 -640 5273 -662 Q 5248 -685 5178 -685 z
" transform="scale(0.015625)"/>
<path id="NanumGothicExtraBold-c6c0" d="M 4531 -589 L 1498 -589 Q 1338 -589 1242 -569 Q 1146 -550 1091 -496 Q 1037 -442 1017 -352 Q 998 -262 998 -122 L 998 1075 Q 998 1357 1094 1453 Q 1190 1549 1459 1549 L 2554 1549 L 2554 1978 L 250 1978 Q 173 1978 147 2006 Q 122 2035 122 2106 L 122 2566 Q 122 2637 141 2669 Q 160 2701 250 2701 L 5741 2701 Q 5875 2701 5875 2566 L 5875 2106 Q 5875 2029 5836 2003 Q 5798 1978 5741 1978 L 3443 1978 L 3443 1549 L 4499 1549 Q 4659 1549 4755 1526 Q 4851 1504 4905 1449 Q 4960 1395 4979 1302 Q 4998 1210 4998 1069 L 4998 -128 Q 4998 -269 4976 -358 Q 4954 -448 4899 -499 Q 4845 -550 4755 -569 Q 4666 -589 4531 -589 z
M 2995 3021 Q 2534 3021 2153 3107 Q 1773 3194 1497 3350 Q 1222 3507 1072 3724 Q 922 3942 922 4205 Q 922 4474 1072 4691 Q 1222 4909 1497 5065 Q 1773 5222 2153 5308 Q 2534 5395 2995 5395 Q 3456 5395 3837 5308 Q 4218 5222 4490 5065 Q 4762 4909 4909 4691 Q 5056 4474 5056 4205 Q 5056 3936 4909 3718 Q 4762 3501 4490 3347 Q 4218 3194 3837 3107 Q 3456 3021 2995 3021 z
M 2995 4698 Q 2438 4698 2137 4550 Q 1837 4403 1837 4205 Q 1837 4115 1913 4028 Q 1990 3942 2140 3872 Q 2291 3802 2505 3757 Q 2720 3712 2995 3712 Q 3539 3712 3840 3865 Q 4141 4019 4141 4205 Q 4141 4403 3840 4550 Q 3539 4698 2995 4698 z
M 4109 749 Q 4109 826 4038 826 L 1958 826 Q 1882 826 1882 742 L 1882 211 Q 1882 134 1958 134 L 4032 134 Q 4077 134 4093 144 Q 4109 154 4109 218 L 4109 749 z
" transform="scale(0.015625)"/>
</defs>
<use href="#NanumGothicExtraBold-b374"/>
<use href="#NanumGothicExtraBold-d2f0" transform="translate(93.999985 0)"/>
<use href="#NanumGothicExtraBold-c6c0" transform="translate(187.999969 0)"/>
</g>
</g>
<g id="text_35">
<!-- 케이씨텍 -->
<g style="fill: #9932cc" transform="translate(772.9321 214.3764) scale(0.12 -0.12)">
<defs>
<path id="NanumGothicExtraBold-d14d" d="M 3002 2112 Q 2778 2054 2509 2019 Q 2240 1984 1965 1961 Q 1690 1939 1424 1932 Q 1158 1926 941 1939 Q 672 1952 541 2067 Q 410 2182 410 2445 L 410 4762 Q 410 4890 429 4970 Q 448 5050 496 5094 Q 544 5139 630 5155 Q 717 5171 851 5171 L 2598 5171 Q 2726 5171 2726 5062 L 2726 4563 Q 2726 4454 2598 4454 L 1376 4454 Q 1312 4454 1299 4428 Q 1286 4403 1286 4365 L 1286 3910 Q 1421 3910 1533 3910 Q 1645 3910 1760 3913 Q 1875 3917 2009 3920 Q 2144 3923 2336 3936 Q 2387 3942 2432 3926 Q 2477 3910 2477 3846 L 2490 3398 Q 2490 3328 2467 3296 Q 2445 3264 2374 3258 Q 2163 3245 2019 3238 Q 1875 3232 1760 3225 Q 1645 3219 1536 3219 Q 1427 3219 1286 3219 L 1286 2746 Q 1286 2675 1308 2656 Q 1331 2637 1408 2630 Q 1766 2618 2150 2650 Q 2534 2682 2874 2752 Q 2957 2765 2985 2755 Q 3014 2746 3027 2675 L 3104 2253 Q 3117 2182 3094 2153 Q 3072 2125 3002 2112 z
M 5446 -672 L 4813 -672 Q 4678 -672 4678 -544 L 4678 659 Q 4678 755 4582 755 L 1510 755 Q 1459 755 1424 774 Q 1389 794 1389 864 L 1389 1363 Q 1389 1453 1424 1469 Q 1459 1485 1510 1485 L 5114 1485 Q 5254 1485 5344 1462 Q 5434 1440 5482 1382 Q 5530 1325 5549 1232 Q 5568 1139 5568 1005 L 5568 -544 Q 5568 -672 5446 -672 z
M 2925 3232 Q 2867 3232 2832 3257 Q 2797 3283 2797 3360 L 2797 3821 Q 2797 3904 2835 3917 Q 2874 3930 2925 3930 L 3482 3930 L 3482 5229 Q 3482 5299 3510 5324 Q 3539 5350 3610 5350 L 4211 5350 Q 4282 5350 4307 5324 Q 4333 5299 4333 5229 L 4333 1965 Q 4333 1888 4307 1865 Q 4282 1843 4211 1843 L 3610 1843 Q 3539 1843 3510 1865 Q 3482 1888 3482 1965 L 3482 3232 L 2925 3232 z
M 5453 1792 L 4819 1792 Q 4749 1792 4723 1821 Q 4698 1850 4698 1920 L 4698 5331 Q 4698 5402 4726 5427 Q 4755 5453 4826 5453 L 5453 5453 Q 5523 5453 5548 5427 Q 5574 5402 5574 5331 L 5574 1920 Q 5574 1850 5548 1821 Q 5523 1792 5453 1792 z
" transform="scale(0.015625)"/>
</defs>
<use href="#NanumGothicExtraBold-cf00"/>
<use href="#NanumGothicExtraBold-c774" transform="translate(93.999985 0)"/>
<use href="#NanumGothicExtraBold-c528" transform="translate(187.999969 0)"/>
<use href="#NanumGothicExtraBold-d14d" transform="translate(281.999954 0)"/>
</g>
</g>
<g id="text_36">
<!-- 우진 -->
<g style="fill: #ff69b4" transform="translate(772.9321 245.2075) scale(0.12 -0.12)">
<defs>
<path id="NanumGothicExtraBold-c6b0" d="M 3002 2611 Q 2547 2611 2163 2713 Q 1779 2816 1497 2998 Q 1216 3181 1056 3437 Q 896 3693 896 4006 Q 896 4320 1056 4579 Q 1216 4838 1497 5020 Q 1779 5203 2163 5305 Q 2547 5408 3002 5408 Q 3450 5408 3834 5305 Q 4218 5203 4499 5020 Q 4781 4838 4941 4579 Q 5101 4320 5101 4006 Q 5101 3693 4941 3437 Q 4781 3181 4502 2998 Q 4224 2816 3837 2713 Q 3450 2611 3002 2611 z
M 5747 1491 L 3443 1491 L 3443 -512 Q 3443 -640 3315 -640 L 2682 -640 Q 2554 -640 2554 -512 L 2554 1491 L 250 1491 Q 166 1491 144 1529 Q 122 1568 122 1638 L 122 2080 Q 122 2150 144 2185 Q 166 2221 250 2221 L 5747 2221 Q 5882 2221 5882 2080 L 5882 1638 Q 5882 1491 5747 1491 z
M 3002 4678 Q 2739 4678 2518 4624 Q 2298 4570 2141 4477 Q 1984 4384 1894 4259 Q 1805 4134 1805 4000 Q 1805 3872 1894 3750 Q 1984 3629 2141 3539 Q 2298 3450 2518 3395 Q 2739 3341 3002 3341 Q 3264 3341 3485 3395 Q 3706 3450 3862 3539 Q 4019 3629 4105 3750 Q 4192 3872 4192 4000 Q 4192 4134 4105 4259 Q 4019 4384 3862 4477 Q 3706 4570 3488 4624 Q 3270 4678 3002 4678 z
" transform="scale(0.015625)"/>
<path id="NanumGothicExtraBold-c9c4" d="M 800 1658 Q 691 1606 649 1622 Q 608 1638 576 1696 L 333 2144 Q 275 2253 416 2323 Q 762 2502 1066 2732 Q 1370 2963 1616 3206 Q 1862 3450 2038 3686 Q 2214 3923 2304 4115 Q 2355 4224 2348 4269 Q 2342 4314 2240 4314 L 781 4314 Q 691 4314 675 4349 Q 659 4384 659 4448 L 659 4909 Q 659 5050 787 5050 L 2944 5050 Q 3328 5050 3417 4864 Q 3507 4678 3386 4352 Q 3290 4102 3142 3840 Q 2995 3578 2803 3315 Q 3059 3046 3369 2832 Q 3680 2618 3923 2477 Q 4032 2413 3962 2317 L 3629 1850 Q 3590 1798 3555 1792 Q 3520 1786 3450 1824 Q 3347 1882 3209 1974 Q 3072 2067 2915 2185 Q 2758 2304 2601 2441 Q 2445 2579 2304 2726 Q 1984 2400 1606 2125 Q 1229 1850 800 1658 z
M 5306 -582 L 1946 -582 Q 1805 -582 1718 -560 Q 1632 -538 1581 -480 Q 1530 -422 1510 -332 Q 1491 -243 1491 -109 L 1491 1293 Q 1491 1427 1619 1427 L 2253 1427 Q 2381 1427 2381 1293 L 2381 250 Q 2381 154 2483 154 L 5306 154 Q 5357 154 5395 131 Q 5434 109 5434 38 L 5434 -467 Q 5434 -557 5395 -569 Q 5357 -582 5306 -582 z
M 5126 1069 L 4480 1069 Q 4410 1069 4384 1097 Q 4358 1126 4358 1197 L 4358 5331 Q 4358 5453 4480 5453 L 5126 5453 Q 5242 5453 5242 5331 L 5242 1190 Q 5242 1120 5219 1094 Q 5197 1069 5126 1069 z
" transform="scale(0.015625)"/>
</defs>
<use href="#NanumGothicExtraBold-c6b0"/>
<use href="#NanumGothicExtraBold-c9c4" transform="translate(93.999985 0)"/>
</g>
</g>
<g id="text_37">
<!-- 디아이 -->
<g style="fill: #00ced1" transform="translate(772.9321 276.0386) scale(0.12 -0.12)">
<defs>
<path id="NanumGothicExtraBold-c544" d="M 5843 2419 L 5050 2419 L 5050 -563 Q 5050 -640 5027 -662 Q 5005 -685 4934 -685 L 4288 -685 Q 4218 -685 4189 -662 Q 4160 -640 4160 -563 L 4160 5331 Q 4160 5402 4189 5427 Q 4218 5453 4288 5453 L 4934 5453 Q 5005 5453 5027 5427 Q 5050 5402 5050 5331 L 5050 3149 L 5843 3149 Q 5901 3149 5936 3133 Q 5971 3117 5971 3027 L 5971 2541 Q 5971 2464 5936 2441 Q 5901 2419 5843 2419 z
M 2016 806 Q 1645 806 1344 966 Q 1043 1126 832 1408 Q 621 1690 505 2074 Q 390 2458 390 2912 Q 390 3386 505 3779 Q 621 4173 832 4457 Q 1043 4742 1344 4902 Q 1645 5062 2016 5062 Q 2387 5062 2691 4905 Q 2995 4749 3209 4467 Q 3424 4186 3539 3792 Q 3654 3398 3654 2925 Q 3654 2458 3539 2067 Q 3424 1677 3209 1398 Q 2995 1120 2691 963 Q 2387 806 2016 806 z
M 2016 4314 Q 1850 4314 1712 4208 Q 1574 4102 1475 3916 Q 1376 3731 1321 3478 Q 1267 3226 1267 2925 Q 1267 2637 1321 2384 Q 1376 2131 1475 1948 Q 1574 1766 1712 1660 Q 1850 1555 2016 1555 Q 2182 1555 2323 1660 Q 2464 1766 2563 1952 Q 2662 2138 2716 2387 Q 2771 2637 2771 2925 Q 2771 3226 2716 3478 Q 2662 3731 2563 3916 Q 2464 4102 2323 4208 Q 2182 4314 2016 4314 z
" transform="scale(0.015625)"/>
</defs>
<use href="#NanumGothicExtraBold-b514"/>
<use href="#NanumGothicExtraBold-c544" transform="translate(93.999985 0)"/>
<use href="#NanumGothicExtraBold-c774" transform="translate(187.999969 0)"/>
</g>
</g>
<g id="text_38">
<!-- KOSPI 의료·정밀기기 저PBR 순위 (최근 7일) -->
<g transform="translate(366.1827 20.8096) scale(0.16 -0.16)">
<defs>
<path id="NanumGothicExtraBold-4b" d="M 3117 13 Q 3046 13 3027 25 Q 3008 38 2963 109 L 1677 2074 L 1331 1690 L 1331 134 Q 1331 58 1299 32 Q 1267 6 1203 6 L 589 6 Q 518 6 489 32 Q 461 58 461 134 L 461 4806 Q 461 4934 589 4934 L 1203 4934 Q 1331 4934 1331 4806 L 1331 2912 L 2835 4838 Q 2867 4870 2886 4889 Q 2906 4909 2963 4909 L 3680 4909 Q 3904 4909 3770 4749 L 2189 2752 L 3936 147 Q 4032 13 3853 13 L 3117 13 z
" transform="scale(0.015625)"/>
<path id="NanumGothicExtraBold-4f" d="M 4166 634 Q 3866 256 3456 77 Q 3046 -102 2528 -102 Q 1952 -102 1539 106 Q 1126 314 860 669 Q 595 1024 470 1488 Q 346 1952 346 2464 Q 346 2963 474 3427 Q 602 3891 870 4246 Q 1139 4602 1548 4813 Q 1958 5024 2528 5024 Q 3091 5024 3500 4809 Q 3910 4595 4179 4240 Q 4448 3885 4579 3424 Q 4710 2963 4704 2464 Q 4698 1901 4570 1443 Q 4442 986 4166 634 z
M 2528 4230 Q 2195 4230 1955 4080 Q 1715 3930 1558 3680 Q 1402 3430 1328 3113 Q 1254 2797 1254 2464 Q 1254 2131 1328 1814 Q 1402 1498 1558 1248 Q 1715 998 1955 844 Q 2195 691 2528 691 Q 2854 691 3094 844 Q 3334 998 3488 1248 Q 3642 1498 3715 1818 Q 3789 2138 3789 2464 Q 3789 2784 3715 3101 Q 3642 3418 3488 3667 Q 3334 3917 3097 4073 Q 2861 4230 2528 4230 z
" transform="scale(0.015625)"/>
<path id="NanumGothicExtraBold-53" d="M 2816 358 Q 2650 173 2374 54 Q 2099 -64 1811 -90 Q 1658 -109 1462 -96 Q 1267 -83 1081 -54 Q 896 -26 742 9 Q 589 45 512 77 Q 442 109 422 137 Q 403 166 416 243 L 480 864 Q 486 928 508 941 Q 531 954 608 922 Q 730 870 886 828 Q 1043 787 1206 764 Q 1370 742 1526 736 Q 1683 730 1811 762 Q 2080 826 2195 973 Q 2310 1120 2310 1395 Q 2310 1453 2284 1529 Q 2259 1606 2188 1699 Q 2118 1792 2000 1894 Q 1882 1997 1696 2112 Q 1344 2330 1097 2515 Q 851 2701 694 2883 Q 538 3066 464 3258 Q 390 3450 390 3680 Q 390 3968 508 4214 Q 627 4461 835 4643 Q 1043 4826 1324 4928 Q 1606 5030 1933 5030 Q 2259 5030 2492 4982 Q 2726 4934 2880 4864 Q 2963 4826 2972 4800 Q 2982 4774 2970 4704 L 2848 4160 Q 2835 4102 2803 4089 Q 2771 4077 2675 4109 Q 2374 4205 2121 4224 Q 1869 4243 1683 4179 Q 1498 4115 1392 3977 Q 1286 3840 1286 3629 Q 1286 3475 1424 3315 Q 1562 3155 1869 2970 Q 2259 2726 2518 2534 Q 2778 2342 2931 2160 Q 3085 1978 3149 1789 Q 3213 1600 3213 1370 Q 3213 1062 3107 812 Q 3002 563 2816 358 z
" transform="scale(0.015625)"/>
<path id="NanumGothicExtraBold-50" d="M 1414 1920 L 1414 134 Q 1414 45 1385 22 Q 1357 0 1286 0 L 672 0 Q 608 0 576 22 Q 544 45 544 134 L 544 4800 Q 544 4877 579 4902 Q 614 4928 666 4928 L 1946 4928 Q 2298 4928 2589 4838 Q 2880 4749 3085 4563 Q 3290 4378 3402 4099 Q 3514 3821 3514 3437 Q 3514 3066 3389 2784 Q 3264 2502 3049 2310 Q 2835 2118 2537 2019 Q 2240 1920 1894 1920 L 1414 1920 z
M 1414 4134 L 1414 2714 L 1837 2714 Q 2221 2714 2425 2886 Q 2630 3059 2630 3443 Q 2630 3782 2467 3958 Q 2304 4134 2035 4134 L 1414 4134 z
" transform="scale(0.015625)"/>
<path id="NanumGothicExtraBold-49" d="M 506 6 Q 435 6 406 32 Q 378 58 378 134 L 378 4806 Q 378 4934 506 4934 L 1120 4934 Q 1248 4934 1248 4806 L 1248 134 Q 1248 58 1219 32 Q 1190 6 1120 6 L 506 6 z
" transform="scale(0.015625)"/>
<path id="NanumGothicExtraBold-20" transform="scale(0.015625)"/>
<path id="NanumGothicExtraBold-c758" d="M 5178 -685 L 4538 -685 Q 4467 -685 4441 -662 Q 4416 -640 4416 -563 L 4416 5331 Q 4416 5402 4441 5427 Q 4467 5453 4538 5453 L 5178 5453 Q 5248 5453 5273 5427 Q 5299 5402 5299 5331 L 5299 -563 Q 5299 -640 5273 -662 Q 5248 -685 5178 -685 z
M 2093 2125 Q 1766 2125 1475 2230 Q 1184 2336 963 2531 Q 742 2726 614 2995 Q 486 3264 486 3597 Q 486 3923 614 4198 Q 742 4474 963 4675 Q 1184 4877 1478 4989 Q 1773 5101 2099 5101 Q 2432 5101 2726 4989 Q 3021 4877 3241 4675 Q 3462 4474 3593 4198 Q 3725 3923 3725 3597 Q 3725 3264 3593 2995 Q 3462 2726 3238 2531 Q 3014 2336 2716 2230 Q 2419 2125 2093 2125 z
M 4090 851 Q 3648 781 3171 736 Q 2694 691 2208 668 Q 1722 646 1238 640 Q 755 634 301 646 Q 224 646 198 678 Q 173 710 173 781 L 173 1242 Q 173 1376 301 1376 Q 749 1363 1225 1369 Q 1702 1376 2179 1398 Q 2656 1421 3113 1462 Q 3571 1504 3974 1562 Q 4064 1574 4089 1555 Q 4115 1536 4122 1466 L 4179 986 Q 4198 870 4090 851 z
M 2099 4352 Q 1786 4352 1578 4141 Q 1370 3930 1370 3597 Q 1370 3251 1574 3049 Q 1779 2848 2099 2848 Q 2413 2848 2627 3049 Q 2842 3251 2842 3597 Q 2842 3757 2784 3897 Q 2726 4038 2627 4140 Q 2528 4243 2390 4297 Q 2253 4352 2099 4352 z
" transform="scale(0.015625)"/>
<path id="NanumGothicExtraBold-b8cc" d="M 5747 339 L 250 339 Q 166 339 144 377 Q 122 416 122 474 L 122 922 Q 122 992 144 1024 Q 166 1056 250 1056 L 1632 1056 L 1632 1907 L 1363 1907 Q 1082 1907 989 2009 Q 896 2112 896 2355 L 896 3456 Q 896 3578 915 3658 Q 934 3738 982 3786 Q 1030 3834 1116 3856 Q 1203 3878 1344 3878 L 4122 3878 Q 4205 3878 4205 3962 L 4205 4352 Q 4205 4429 4122 4429 L 1056 4429 Q 986 4429 957 4454 Q 928 4480 928 4557 L 928 5024 Q 928 5146 1056 5146 L 4608 5146 Q 4749 5146 4841 5126 Q 4934 5107 4982 5059 Q 5030 5011 5049 4928 Q 5069 4845 5069 4717 L 5069 3622 Q 5069 3488 5049 3405 Q 5030 3322 4982 3274 Q 4934 3226 4841 3206 Q 4749 3187 4608 3187 L 1837 3187 Q 1760 3187 1760 3117 L 1760 2701 Q 1760 2624 1843 2624 L 5082 2624 Q 5152 2624 5184 2608 Q 5216 2592 5216 2502 L 5216 2035 Q 5216 1907 5088 1907 L 4365 1907 L 4365 1056 L 5747 1056 Q 5882 1056 5882 922 L 5882 474 Q 5882 339 5747 339 z
M 3475 1056 L 3475 1907 L 2522 1907 L 2522 1056 L 3475 1056 z
" transform="scale(0.015625)"/>
<path id="NanumGothicExtraBold-b7" d="M 1459 2490 Q 1459 2253 1302 2102 Q 1146 1952 909 1952 Q 672 1952 518 2102 Q 365 2253 365 2490 Q 365 2726 515 2880 Q 666 3034 902 3034 Q 1139 3034 1299 2880 Q 1459 2726 1459 2490 z
" transform="scale(0.015625)"/>
<path id="NanumGothicExtraBold-c815" d="M 3386 -736 Q 2970 -736 2618 -643 Q 2266 -550 2006 -384 Q 1747 -218 1600 12 Q 1453 243 1453 518 Q 1453 774 1600 1001 Q 1747 1229 2006 1395 Q 2266 1562 2618 1658 Q 2970 1754 3386 1754 Q 3782 1754 4137 1661 Q 4493 1568 4761 1405 Q 5030 1242 5190 1014 Q 5350 787 5350 518 Q 5350 243 5190 12 Q 5030 -218 4761 -384 Q 4493 -550 4137 -643 Q 3782 -736 3386 -736 z
M 806 1766 Q 698 1715 656 1734 Q 614 1754 582 1811 L 314 2253 Q 243 2355 397 2432 Q 710 2605 1004 2825 Q 1299 3046 1545 3280 Q 1792 3514 1974 3747 Q 2157 3981 2253 4179 Q 2304 4288 2297 4333 Q 2291 4378 2189 4378 L 781 4378 Q 691 4378 675 4413 Q 659 4448 659 4512 L 659 4979 Q 659 5114 787 5114 L 2893 5114 Q 3277 5114 3360 4928 Q 3443 4742 3334 4416 Q 3162 3923 2822 3450 Q 3072 3206 3366 3014 Q 3661 2822 3885 2694 Q 3981 2637 3923 2541 L 3629 2067 Q 3597 2016 3561 2009 Q 3526 2003 3456 2035 Q 3360 2086 3225 2169 Q 3091 2253 2937 2365 Q 2784 2477 2627 2605 Q 2470 2733 2330 2867 Q 2010 2547 1629 2268 Q 1248 1990 806 1766 z
M 3578 3277 Q 3450 3277 3450 3405 L 3450 3878 Q 3450 3968 3485 3984 Q 3520 4000 3578 4000 L 4422 4000 L 4422 5331 Q 4422 5414 4460 5433 Q 4499 5453 4557 5453 L 5190 5453 Q 5274 5453 5290 5417 Q 5306 5382 5306 5331 L 5306 2016 Q 5306 1894 5184 1894 L 4544 1894 Q 4422 1894 4422 2010 L 4422 3277 L 3578 3277 z
M 3386 1056 Q 2906 1056 2634 889 Q 2362 723 2362 499 Q 2362 282 2634 125 Q 2906 -32 3386 -32 Q 3610 -32 3802 9 Q 3994 51 4134 124 Q 4275 198 4355 294 Q 4435 390 4435 499 Q 4435 608 4355 710 Q 4275 813 4134 889 Q 3994 966 3802 1011 Q 3610 1056 3386 1056 z
" transform="scale(0.015625)"/>
<path id="NanumGothicExtraBold-bc00" d="M 5126 2304 L 4480 2304 Q 4358 2304 4358 2432 L 4358 5331 Q 4358 5402 4384 5427 Q 4410 5453 4480 5453 L 5126 5453 Q 5197 5453 5219 5427 Q 5242 5402 5242 5331 L 5242 2426 Q 5242 2304 5126 2304 z
M 3046 2541 L 1069 2541 Q 922 2541 829 2557 Q 736 2573 685 2621 Q 634 2669 614 2755 Q 595 2842 595 2982 L 595 4832 Q 595 5107 694 5184 Q 794 5261 1037 5261 L 3046 5261 Q 3181 5261 3264 5248 Q 3347 5235 3398 5190 Q 3450 5146 3469 5059 Q 3488 4973 3488 4832 L 3488 2982 Q 3488 2842 3469 2755 Q 3450 2669 3402 2621 Q 3354 2573 3267 2557 Q 3181 2541 3046 2541 z
M 5286 -717 L 1888 -717 Q 1747 -717 1660 -694 Q 1574 -672 1526 -624 Q 1478 -576 1462 -496 Q 1446 -416 1446 -301 L 1446 563 Q 1446 685 1462 761 Q 1478 838 1526 886 Q 1574 934 1657 953 Q 1741 973 1882 973 L 4314 973 Q 4378 973 4378 1043 L 4378 1222 Q 4378 1299 4307 1299 L 1562 1299 Q 1491 1299 1462 1324 Q 1434 1350 1434 1427 L 1434 1869 Q 1434 1990 1562 1990 L 4787 1990 Q 4934 1990 5024 1968 Q 5114 1946 5165 1898 Q 5216 1850 5232 1773 Q 5248 1696 5248 1581 L 5248 723 Q 5248 595 5232 515 Q 5216 435 5168 390 Q 5120 346 5033 330 Q 4947 314 4800 314 L 2394 314 Q 2323 314 2323 250 L 2323 45 Q 2323 -26 2400 -26 L 5280 -26 Q 5350 -26 5379 -45 Q 5408 -64 5408 -147 L 5408 -589 Q 5408 -717 5286 -717 z
M 2618 4422 Q 2618 4506 2602 4528 Q 2586 4550 2509 4550 L 1594 4550 Q 1510 4550 1488 4531 Q 1466 4512 1466 4422 L 1466 3379 Q 1466 3290 1488 3270 Q 1510 3251 1594 3251 L 2509 3251 Q 2586 3251 2602 3273 Q 2618 3296 2618 3379 L 2618 4422 z
" transform="scale(0.015625)"/>
<path id="NanumGothicExtraBold-ae30" d="M 5178 -685 L 4538 -685 Q 4467 -685 4441 -662 Q 4416 -640 4416 -563 L 4416 5331 Q 4416 5402 4441 5427 Q 4467 5453 4538 5453 L 5178 5453 Q 5248 5453 5273 5427 Q 5299 5402 5299 5331 L 5299 -563 Q 5299 -640 5273 -662 Q 5248 -685 5178 -685 z
M 941 634 Q 851 582 803 582 Q 755 582 704 653 L 403 1101 Q 358 1165 374 1222 Q 390 1280 448 1312 Q 1414 1856 1971 2566 Q 2528 3277 2650 4115 Q 2669 4250 2547 4250 L 762 4250 Q 678 4250 659 4278 Q 640 4307 640 4378 L 640 4858 Q 640 4934 665 4956 Q 691 4979 762 4979 L 3091 4979 Q 3411 4979 3516 4848 Q 3622 4717 3603 4435 Q 3565 3859 3366 3315 Q 3168 2771 2829 2284 Q 2490 1798 2013 1379 Q 1536 960 941 634 z
" transform="scale(0.015625)"/>
<path id="NanumGothicExtraBold-c800" d="M 3635 1011 Q 3584 947 3520 966 Q 3456 986 3373 1043 Q 3264 1120 3120 1248 Q 2976 1376 2819 1533 Q 2662 1690 2508 1862 Q 2355 2035 2234 2202 Q 1907 1811 1516 1459 Q 1126 1107 685 819 Q 627 781 592 787 Q 557 794 506 858 L 205 1261 Q 154 1331 170 1372 Q 186 1414 243 1453 Q 614 1709 947 2022 Q 1280 2336 1558 2681 Q 1837 3027 2048 3392 Q 2259 3757 2374 4122 Q 2413 4250 2278 4250 L 723 4250 Q 634 4250 618 4285 Q 602 4320 602 4384 L 602 4845 Q 602 4922 630 4950 Q 659 4979 730 4979 L 2842 4979 Q 3091 4979 3235 4870 Q 3379 4762 3379 4550 Q 3379 4461 3363 4377 Q 3347 4294 3328 4218 Q 3162 3552 2714 2861 Q 2835 2669 2992 2489 Q 3149 2310 3315 2150 Q 3482 1990 3645 1852 Q 3808 1715 3942 1606 Q 4051 1523 3936 1389 L 3635 1011 z
M 5299 -685 L 4646 -685 Q 4576 -685 4550 -662 Q 4525 -640 4525 -563 L 4525 2650 L 3526 2650 Q 3462 2650 3430 2672 Q 3398 2694 3398 2765 L 3398 3258 Q 3398 3328 3430 3353 Q 3462 3379 3526 3379 L 4525 3379 L 4525 5331 Q 4525 5402 4550 5427 Q 4576 5453 4646 5453 L 5299 5453 Q 5370 5453 5392 5427 Q 5414 5402 5414 5331 L 5414 -563 Q 5414 -640 5392 -662 Q 5370 -685 5299 -685 z
" transform="scale(0.015625)"/>
<path id="NanumGothicExtraBold-42" d="M 627 6 Q 570 6 538 19 Q 506 32 506 122 L 506 4794 Q 506 4864 522 4899 Q 538 4934 627 4934 L 1766 4934 Q 2125 4934 2416 4854 Q 2707 4774 2912 4614 Q 3117 4454 3229 4208 Q 3341 3962 3341 3635 Q 3341 3475 3293 3318 Q 3245 3162 3155 3024 Q 3066 2886 2938 2774 Q 2810 2662 2650 2586 Q 2842 2515 2992 2400 Q 3142 2285 3248 2141 Q 3354 1997 3408 1837 Q 3462 1677 3462 1517 Q 3462 787 3001 396 Q 2541 6 1606 6 L 627 6 z
M 1376 4160 L 1376 2925 L 1658 2925 Q 1888 2925 2041 2976 Q 2195 3027 2288 3116 Q 2381 3206 2419 3324 Q 2458 3443 2458 3584 Q 2458 3699 2426 3804 Q 2394 3910 2314 3987 Q 2234 4064 2099 4112 Q 1965 4160 1766 4160 L 1376 4160 z
M 1363 2208 L 1363 781 L 1619 781 Q 1907 781 2092 835 Q 2278 890 2390 982 Q 2502 1075 2547 1206 Q 2592 1338 2592 1491 Q 2592 1645 2544 1776 Q 2496 1907 2377 2003 Q 2259 2099 2057 2153 Q 1856 2208 1555 2208 L 1363 2208 z
" transform="scale(0.015625)"/>
<path id="NanumGothicExtraBold-52" d="M 3091 6 Q 3014 6 2992 22 Q 2970 38 2938 109 L 2029 1933 L 1440 1933 L 1440 141 Q 1440 51 1414 28 Q 1389 6 1318 6 L 698 6 Q 634 6 602 28 Q 570 51 570 141 L 570 4806 Q 570 4883 605 4908 Q 640 4934 691 4934 L 1978 4934 Q 2336 4934 2627 4844 Q 2918 4755 3123 4569 Q 3328 4384 3440 4105 Q 3552 3827 3552 3443 Q 3552 2982 3353 2659 Q 3155 2336 2829 2150 L 3866 173 Q 3917 77 3904 41 Q 3891 6 3795 6 L 3091 6 z
M 1440 4147 L 1440 2714 L 1869 2714 Q 2253 2714 2464 2890 Q 2675 3066 2675 3450 Q 2675 3795 2505 3971 Q 2336 4147 2067 4147 L 1440 4147 z
" transform="scale(0.015625)"/>
<path id="NanumGothicExtraBold-c21c" d="M 5747 1811 L 3494 1811 L 3494 800 Q 3494 730 3465 704 Q 3437 678 3360 678 L 2733 678 Q 2656 678 2630 704 Q 2605 730 2605 800 L 2605 1811 L 250 1811 Q 166 1811 144 1849 Q 122 1888 122 1952 L 122 2406 Q 122 2477 144 2509 Q 166 2541 250 2541 L 5747 2541 Q 5882 2541 5882 2406 L 5882 1952 Q 5882 1811 5747 1811 z
M 986 2861 Q 877 2829 854 2864 Q 832 2899 787 2970 L 595 3386 Q 576 3437 592 3478 Q 608 3520 678 3539 Q 2426 4038 2560 5267 Q 2566 5357 2592 5376 Q 2618 5395 2707 5389 L 3264 5363 Q 3354 5357 3382 5331 Q 3411 5306 3405 5229 Q 3405 5101 3386 4979 Q 3501 4742 3712 4524 Q 3923 4307 4185 4128 Q 4448 3949 4742 3814 Q 5037 3680 5318 3610 Q 5408 3584 5411 3539 Q 5414 3494 5382 3418 L 5178 2989 Q 5146 2938 5123 2922 Q 5101 2906 5011 2918 Q 4774 2957 4502 3065 Q 4230 3174 3964 3334 Q 3699 3494 3459 3696 Q 3219 3898 3046 4122 Q 2733 3661 2198 3334 Q 1664 3008 986 2861 z
M 5088 -582 L 1389 -582 Q 1254 -582 1168 -560 Q 1082 -538 1034 -486 Q 986 -435 966 -345 Q 947 -256 947 -122 L 947 1280 Q 947 1414 1075 1414 L 1702 1414 Q 1830 1414 1830 1280 L 1830 243 Q 1830 147 1933 147 L 5088 147 Q 5139 147 5180 124 Q 5222 102 5222 32 L 5222 -467 Q 5222 -557 5180 -569 Q 5139 -582 5088 -582 z
" transform="scale(0.015625)"/>
<path id="NanumGothicExtraBold-c704" d="M 2170 2618 Q 1837 2618 1552 2710 Q 1267 2803 1056 2969 Q 845 3136 726 3369 Q 608 3603 608 3891 Q 608 4166 729 4400 Q 851 4634 1062 4800 Q 1274 4966 1558 5059 Q 1843 5152 2170 5152 Q 2502 5152 2790 5059 Q 3078 4966 3289 4800 Q 3501 4634 3619 4400 Q 3738 4166 3738 3891 Q 3738 3603 3619 3369 Q 3501 3136 3289 2969 Q 3078 2803 2790 2710 Q 2502 2618 2170 2618 z
M 5184 -685 L 4531 -685 Q 4461 -685 4435 -662 Q 4410 -640 4410 -563 L 4410 5331 Q 4410 5402 4435 5427 Q 4461 5453 4531 5453 L 5184 5453 Q 5254 5453 5280 5427 Q 5306 5402 5306 5331 L 5306 -563 Q 5306 -640 5280 -662 Q 5254 -685 5184 -685 z
M 2483 -486 L 1869 -486 Q 1741 -486 1741 -352 L 1741 1446 Q 1370 1440 1011 1443 Q 653 1446 307 1453 Q 230 1459 208 1491 Q 186 1523 186 1594 L 186 2054 Q 186 2125 211 2153 Q 237 2182 307 2182 Q 1216 2163 2150 2188 Q 3085 2214 3974 2323 Q 4070 2336 4099 2320 Q 4128 2304 4141 2234 L 4192 1766 Q 4205 1683 4176 1664 Q 4147 1645 4083 1632 Q 3738 1574 3366 1539 Q 2995 1504 2611 1478 L 2611 -352 Q 2611 -486 2483 -486 z
M 2170 4422 Q 2022 4422 1891 4380 Q 1760 4339 1664 4265 Q 1568 4192 1510 4093 Q 1453 3994 1453 3878 Q 1453 3757 1510 3654 Q 1568 3552 1664 3478 Q 1760 3405 1891 3363 Q 2022 3322 2170 3322 Q 2477 3322 2688 3478 Q 2899 3635 2899 3878 Q 2899 4115 2688 4268 Q 2477 4422 2170 4422 z
" transform="scale(0.015625)"/>
<path id="NanumGothicExtraBold-28" d="M 1696 -838 Q 1651 -838 1622 -832 Q 1594 -826 1562 -781 Q 1024 -64 713 717 Q 403 1498 403 2291 Q 403 3078 713 3852 Q 1024 4627 1562 5350 Q 1594 5389 1613 5405 Q 1632 5421 1683 5421 L 2138 5421 Q 2234 5421 2243 5392 Q 2253 5363 2208 5280 Q 1786 4506 1536 3747 Q 1286 2989 1286 2291 Q 1286 1594 1526 816 Q 1766 38 2214 -717 Q 2253 -781 2240 -809 Q 2227 -838 2138 -838 L 1696 -838 z
" transform="scale(0.015625)"/>
<path id="NanumGothicExtraBold-cd5c" d="M 5184 -685 L 4531 -685 Q 4461 -685 4435 -662 Q 4410 -640 4410 -563 L 4410 5331 Q 4410 5402 4435 5427 Q 4461 5453 4531 5453 L 5184 5453 Q 5254 5453 5280 5427 Q 5306 5402 5306 5331 L 5306 -563 Q 5306 -640 5280 -662 Q 5254 -685 5184 -685 z
M 838 1760 Q 730 1728 688 1734 Q 646 1741 614 1798 L 422 2221 Q 365 2349 506 2400 Q 1171 2650 1638 2918 Q 2106 3187 2374 3430 Q 2464 3514 2445 3542 Q 2426 3571 2355 3571 L 838 3571 Q 749 3571 733 3609 Q 717 3648 717 3712 L 717 4154 Q 717 4288 845 4288 L 3168 4288 Q 3546 4288 3638 4105 Q 3731 3923 3578 3616 Q 3488 3450 3341 3274 Q 3194 3098 2995 2931 Q 3219 2810 3497 2704 Q 3776 2598 3981 2528 Q 4096 2490 4038 2381 L 3846 1946 Q 3814 1882 3782 1875 Q 3750 1869 3680 1882 Q 3571 1901 3408 1958 Q 3245 2016 3062 2096 Q 2880 2176 2694 2272 Q 2509 2368 2355 2464 Q 2003 2240 1616 2057 Q 1229 1875 838 1760 z
M 4083 499 Q 3642 429 3165 384 Q 2688 339 2201 320 Q 1715 301 1228 297 Q 742 294 294 307 Q 218 307 195 339 Q 173 371 173 442 L 173 902 Q 173 973 198 1005 Q 224 1037 294 1030 Q 672 1018 1059 1014 Q 1446 1011 1843 1024 L 1843 1837 Q 1843 1907 1868 1932 Q 1894 1958 1971 1958 L 2592 1958 Q 2669 1958 2694 1932 Q 2720 1907 2720 1837 L 2720 1056 Q 3373 1094 3974 1190 Q 4070 1203 4099 1187 Q 4128 1171 4141 1094 L 4192 634 Q 4205 544 4176 528 Q 4147 512 4083 499 z
M 2950 4602 L 1382 4602 Q 1331 4602 1289 4624 Q 1248 4646 1248 4736 L 1248 5178 Q 1248 5267 1289 5289 Q 1331 5312 1382 5312 L 2950 5312 Q 3091 5312 3091 5171 L 3091 4742 Q 3091 4602 2950 4602 z
" transform="scale(0.015625)"/>
<path id="NanumGothicExtraBold-adfc" d="M 5741 2061 L 250 2061 Q 160 2061 141 2093 Q 122 2125 122 2195 L 122 2656 Q 122 2726 147 2755 Q 173 2784 250 2784 L 4070 2784 Q 4096 2925 4121 3155 Q 4147 3386 4166 3619 Q 4186 3853 4195 4038 Q 4205 4224 4205 4282 Q 4205 4378 4179 4419 Q 4154 4461 4032 4461 L 1139 4461 Q 1075 4461 1040 4477 Q 1005 4493 1005 4576 L 1005 5075 Q 1005 5146 1040 5165 Q 1075 5184 1139 5184 L 4627 5184 Q 4858 5184 4966 5085 Q 5075 4986 5075 4742 Q 5075 4570 5065 4330 Q 5056 4090 5037 3824 Q 5018 3558 4989 3286 Q 4960 3014 4915 2784 L 5741 2784 Q 5798 2784 5836 2758 Q 5875 2733 5875 2656 L 5875 2195 Q 5875 2061 5741 2061 z
M 5050 -525 L 1453 -525 Q 1318 -525 1232 -502 Q 1146 -480 1098 -429 Q 1050 -378 1030 -288 Q 1011 -198 1011 -64 L 1011 1434 Q 1011 1568 1139 1568 L 1766 1568 Q 1901 1568 1901 1434 L 1901 301 Q 1901 205 1997 205 L 5050 205 Q 5101 205 5142 182 Q 5184 160 5184 90 L 5184 -410 Q 5184 -499 5142 -512 Q 5101 -525 5050 -525 z
" transform="scale(0.015625)"/>
<path id="NanumGothicExtraBold-37" d="M 3405 4224 Q 3194 3654 2986 3132 Q 2778 2611 2573 2112 Q 2368 1613 2160 1120 Q 1952 627 1747 109 Q 1715 19 1686 0 Q 1658 -19 1568 -19 L 947 -19 Q 838 -19 812 16 Q 787 51 838 173 L 2400 4090 L 525 4090 Q 442 4090 410 4118 Q 378 4147 378 4243 L 378 4762 Q 378 4864 406 4889 Q 435 4915 525 4915 L 3232 4915 Q 3341 4915 3379 4886 Q 3418 4858 3418 4755 L 3418 4301 Q 3418 4262 3405 4224 z
" transform="scale(0.015625)"/>
<path id="NanumGothicExtraBold-c77c" d="M 5126 2304 L 4480 2304 Q 4358 2304 4358 2432 L 4358 5331 Q 4358 5402 4384 5427 Q 4410 5453 4480 5453 L 5126 5453 Q 5197 5453 5219 5427 Q 5242 5402 5242 5331 L 5242 2426 Q 5242 2304 5126 2304 z
M 2029 2438 Q 1683 2438 1398 2550 Q 1114 2662 906 2857 Q 698 3053 586 3312 Q 474 3571 474 3872 Q 474 4166 586 4428 Q 698 4691 906 4886 Q 1114 5082 1398 5194 Q 1683 5306 2029 5306 Q 2381 5306 2669 5194 Q 2957 5082 3165 4886 Q 3373 4691 3485 4428 Q 3597 4166 3597 3872 Q 3597 3571 3485 3312 Q 3373 3053 3165 2857 Q 2957 2662 2669 2550 Q 2381 2438 2029 2438 z
M 5286 -717 L 1875 -717 Q 1734 -717 1648 -694 Q 1562 -672 1514 -624 Q 1466 -576 1450 -496 Q 1434 -416 1434 -301 L 1434 563 Q 1434 685 1450 761 Q 1466 838 1514 886 Q 1562 934 1645 953 Q 1728 973 1869 973 L 4314 973 Q 4378 973 4378 1043 L 4378 1222 Q 4378 1299 4307 1299 L 1549 1299 Q 1478 1299 1449 1324 Q 1421 1350 1421 1427 L 1421 1869 Q 1421 1990 1549 1990 L 4787 1990 Q 4934 1990 5024 1968 Q 5114 1946 5165 1898 Q 5216 1850 5232 1773 Q 5248 1696 5248 1581 L 5248 723 Q 5248 595 5232 515 Q 5216 435 5168 390 Q 5120 346 5033 330 Q 4947 314 4800 314 L 2381 314 Q 2310 314 2310 250 L 2310 45 Q 2310 -26 2387 -26 L 5280 -26 Q 5350 -26 5379 -45 Q 5408 -64 5408 -147 L 5408 -589 Q 5408 -717 5286 -717 z
M 2029 4582 Q 1862 4582 1731 4524 Q 1600 4467 1504 4371 Q 1408 4275 1357 4147 Q 1306 4019 1306 3872 Q 1306 3578 1504 3373 Q 1702 3168 2029 3168 Q 2368 3168 2569 3373 Q 2771 3578 2771 3872 Q 2771 4166 2569 4374 Q 2368 4582 2029 4582 z
" transform="scale(0.015625)"/>
<path id="NanumGothicExtraBold-29" d="M 224 -838 Q 134 -838 121 -809 Q 109 -781 147 -717 Q 595 38 835 816 Q 1075 1594 1075 2291 Q 1075 2989 825 3747 Q 576 4506 154 5280 Q 109 5363 118 5392 Q 128 5421 224 5421 L 678 5421 Q 730 5421 749 5405 Q 768 5389 800 5350 Q 1338 4627 1648 3852 Q 1958 3078 1958 2291 Q 1958 1498 1648 717 Q 1338 -64 800 -781 Q 768 -826 739 -832 Q 710 -838 666 -838 L 224 -838 z
" transform="scale(0.015625)"/>
</defs>
<use href="#NanumGothicExtraBold-4b"/>
<use href="#NanumGothicExtraBold-4f" transform="translate(64.099991 0)"/>
<use href="#NanumGothicExtraBold-53" transform="translate(142.799973 0)"/>
<use href="#NanumGothicExtraBold-50" transform="translate(197.299957 0)"/>
<use href="#NanumGothicExtraBold-49" transform="translate(254.999954 0)"/>
<use href="#NanumGothicExtraBold-20" transform="translate(279.199951 0)"/>
<use href="#NanumGothicExtraBold-c758" transform="translate(307.199936 0)"/>
<use href="#NanumGothicExtraBold-b8cc" transform="translate(401.199921 0)"/>
<use href="#NanumGothicExtraBold-b7" transform="translate(495.199905 0)"/>
<use href="#NanumGothicExtraBold-c815" transform="translate(524.19989 0)"/>
<use href="#NanumGothicExtraBold-bc00" transform="translate(618.199875 0)"/>
<use href="#NanumGothicExtraBold-ae30" transform="translate(712.19986 0)"/>
<use href="#NanumGothicExtraBold-ae30" transform="translate(806.199844 0)"/>
<use href="#NanumGothicExtraBold-20" transform="translate(900.199829 0)"/>
<use href="#NanumGothicExtraBold-c800" transform="translate(928.199814 0)"/>
<use href="#NanumGothicExtraBold-50" transform="translate(1022.199799 0)"/>
<use href="#NanumGothicExtraBold-42" transform="translate(1079.899796 0)"/>
<use href="#NanumGothicExtraBold-52" transform="translate(1140.499786 0)"/>
<use href="#NanumGothicExtraBold-20" transform="translate(1202.699783 0)"/>
<use href="#NanumGothicExtraBold-c21c" transform="translate(1230.699768 0)"/>
<use href="#NanumGothicExtraBold-c704" transform="translate(1324.699753 0)"/>
<use href="#NanumGothicExtraBold-20" transform="translate(1418.699738 0)"/>
<use href="#NanumGothicExtraBold-28" transform="translate(1446.699722 0)"/>
<use href="#NanumGothicExtraBold-cd5c" transform="translate(1482.99971 0)"/>
<use href="#NanumGothicExtraBold-adfc" transform="translate(1576.999695 0)"/>
<use href="#NanumGothicExtraBold-20" transform="translate(1670.99968 0)"/>
<use href="#NanumGothicExtraBold-37" transform="translate(1698.999664 0)"/>
<use href="#NanumGothicExtraBold-c77c" transform="translate(1759.599655 0)"/>
<use href="#NanumGothicExtraBold-29" transform="translate(1853.59964 0)"/>
</g>
</g>
</g>
</g>
<defs>
<clipPath id="p527ad0eb08">
<rect x="41.868" y="40.1616" width="951.732" height="616.6224"/>
</clipPath>
</defs>
</svg>

</body></html>
